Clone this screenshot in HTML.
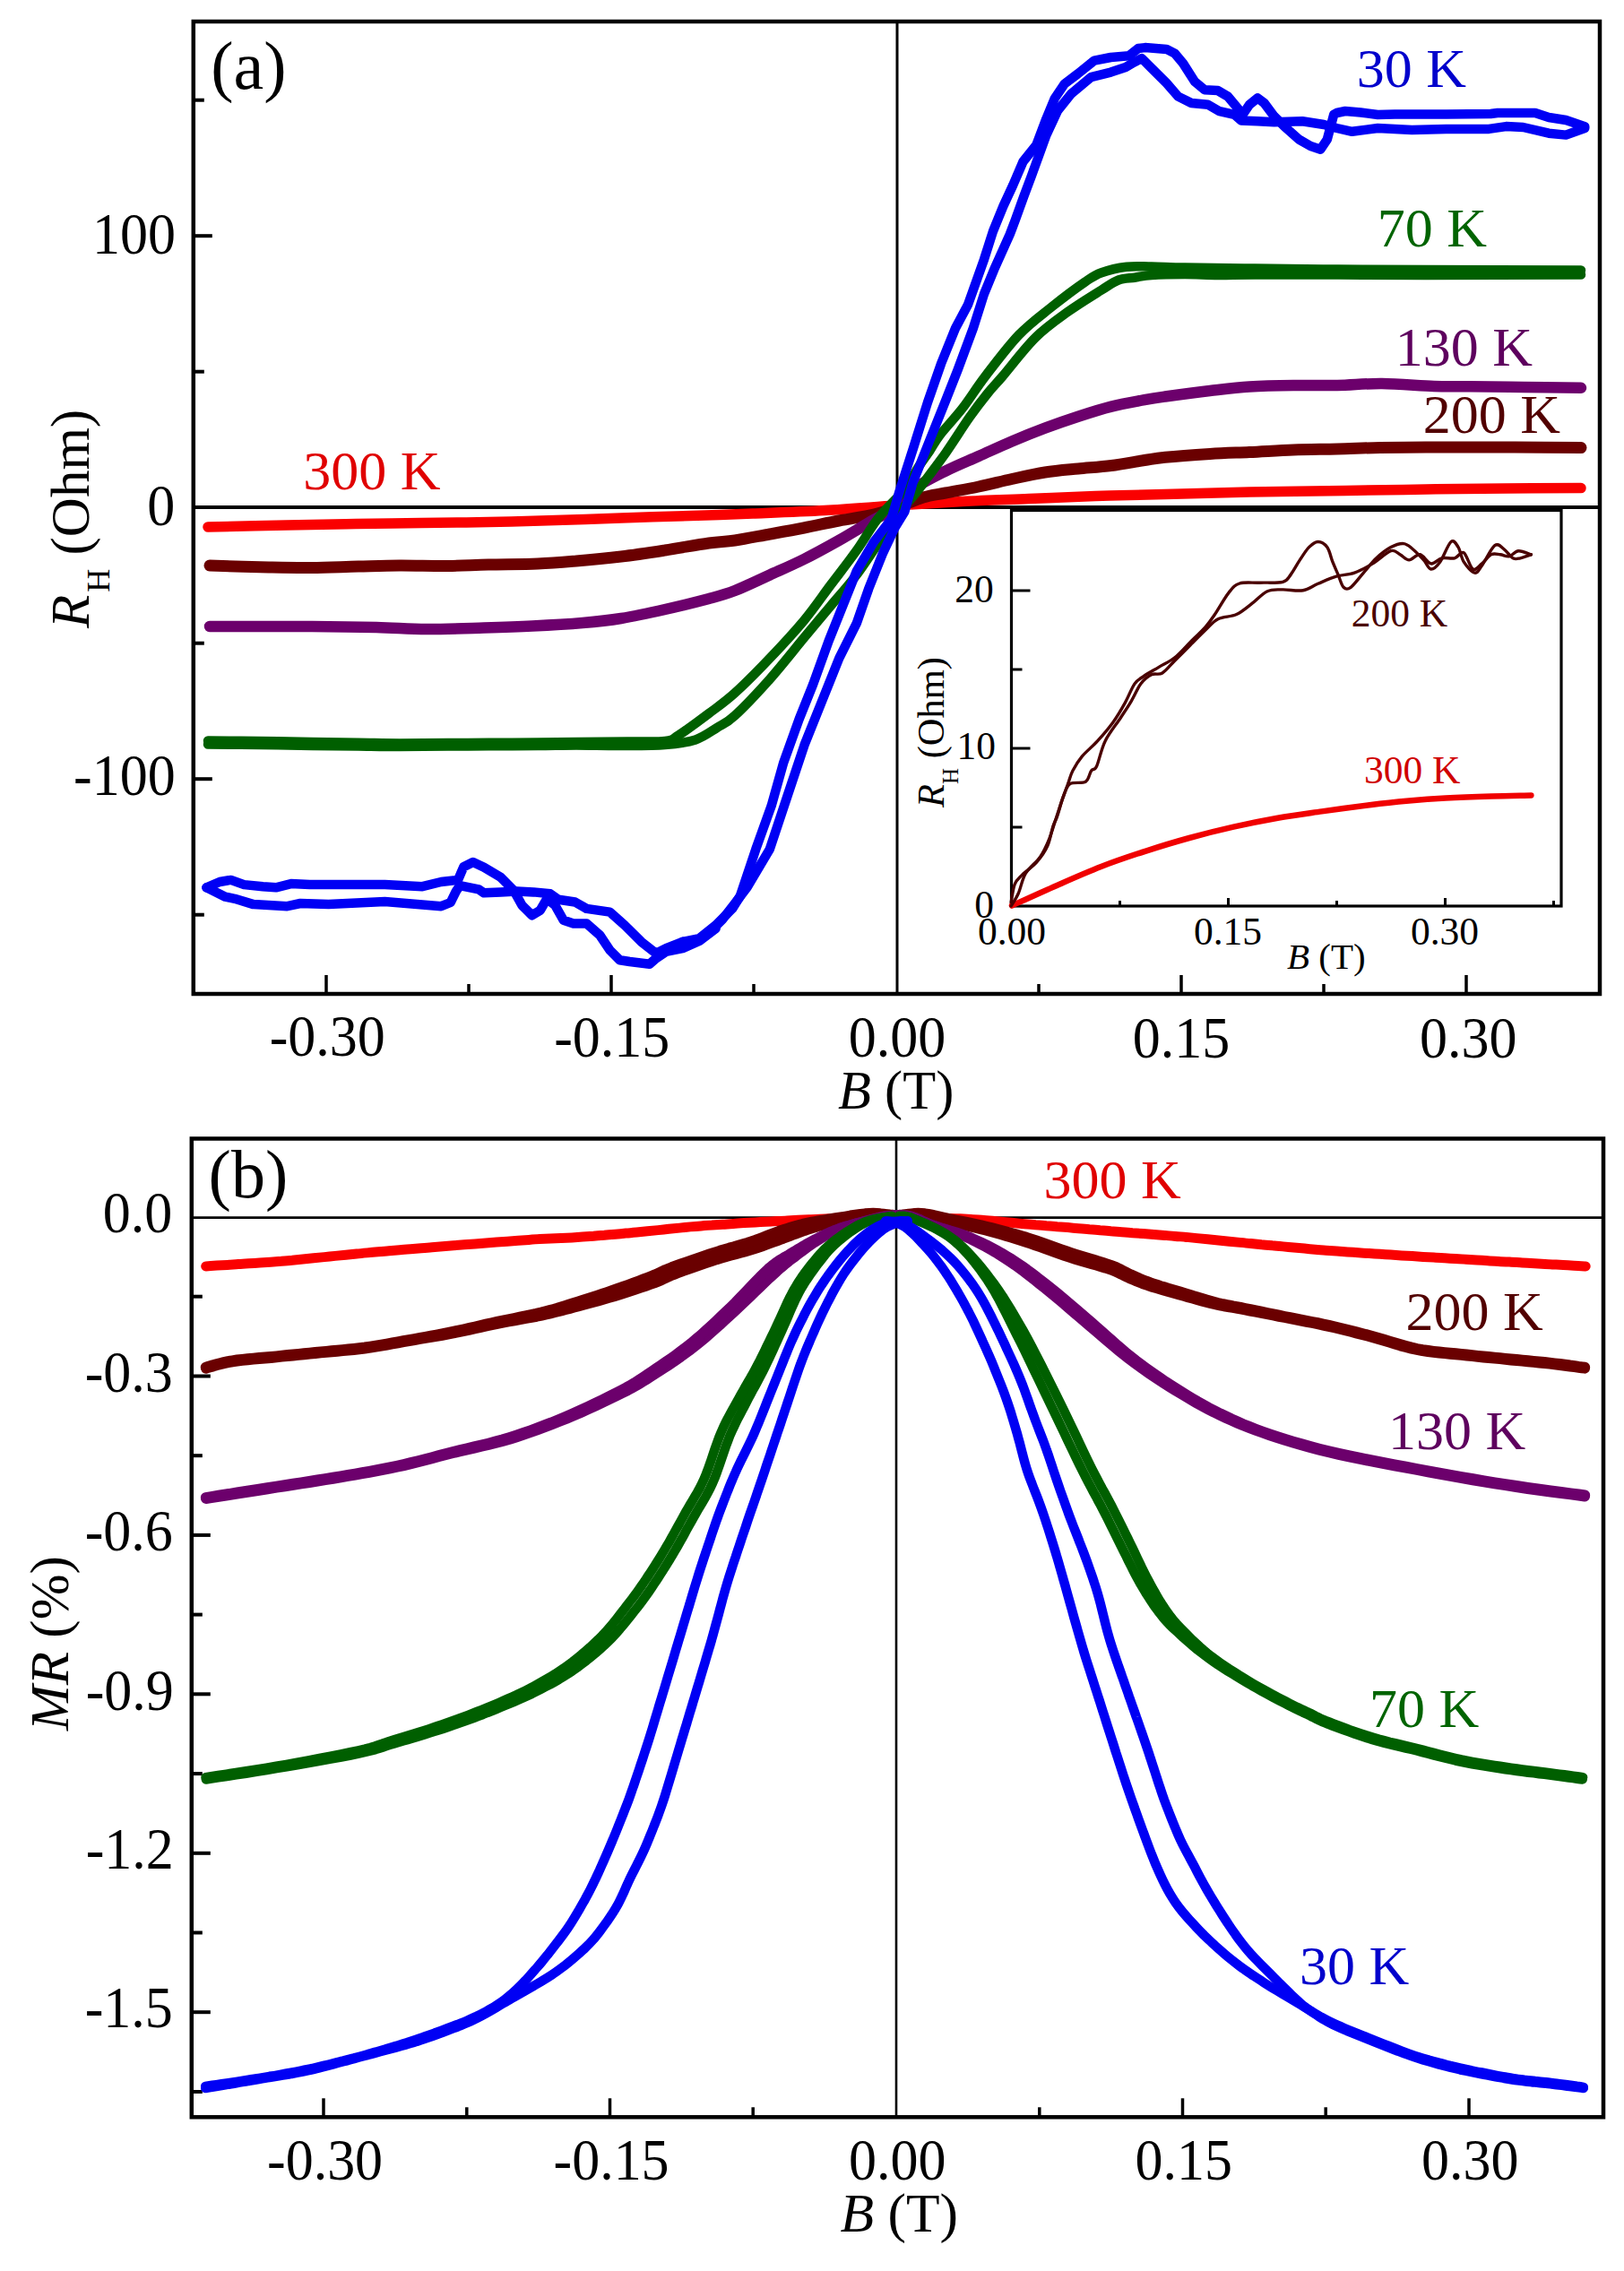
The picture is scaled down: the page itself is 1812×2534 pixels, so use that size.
<!DOCTYPE html>
<html><head><meta charset="utf-8"><title>Hall resistance and magnetoresistance</title>
<style>html,body{margin:0;padding:0;background:#fff;} svg{display:block;}</style>
</head><body>
<svg xmlns="http://www.w3.org/2000/svg" width="1812" height="2534" viewBox="0 0 1812 2534"><rect x="0" y="0" width="1812" height="2534" fill="#fff"/>
<line x1="1001" y1="24" x2="1001" y2="1109" stroke="#000" stroke-width="3"/>
<line x1="215.8" y1="566" x2="1785" y2="566" stroke="#000" stroke-width="4"/>
<line x1="364.0" y1="1109" x2="364.0" y2="1088" stroke="#000" stroke-width="3.5"/>
<line x1="682.0" y1="1109" x2="682.0" y2="1088" stroke="#000" stroke-width="3.5"/>
<line x1="1318.0" y1="1109" x2="1318.0" y2="1088" stroke="#000" stroke-width="3.5"/>
<line x1="1636.0" y1="1109" x2="1636.0" y2="1088" stroke="#000" stroke-width="3.5"/>
<line x1="523.0" y1="1109" x2="523.0" y2="1098" stroke="#000" stroke-width="3.5"/>
<line x1="841.0" y1="1109" x2="841.0" y2="1098" stroke="#000" stroke-width="3.5"/>
<line x1="1159.0" y1="1109" x2="1159.0" y2="1098" stroke="#000" stroke-width="3.5"/>
<line x1="1477.0" y1="1109" x2="1477.0" y2="1098" stroke="#000" stroke-width="3.5"/>
<line x1="215.8" y1="263.2" x2="236.8" y2="263.2" stroke="#000" stroke-width="4"/>
<line x1="215.8" y1="869.2" x2="236.8" y2="869.2" stroke="#000" stroke-width="4"/>
<line x1="215.8" y1="111.7" x2="227.8" y2="111.7" stroke="#000" stroke-width="4"/>
<line x1="215.8" y1="414.7" x2="227.8" y2="414.7" stroke="#000" stroke-width="4"/>
<line x1="215.8" y1="717.7" x2="227.8" y2="717.7" stroke="#000" stroke-width="4"/>
<line x1="215.8" y1="1020.7" x2="227.8" y2="1020.7" stroke="#000" stroke-width="4"/>
<rect x="1128.5" y="569.5" width="613.5" height="441.5" fill="#fff" stroke="#000" stroke-width="3.2"/>
<line x1="1128.5" y1="835.0" x2="1149.5" y2="835.0" stroke="#000" stroke-width="3"/>
<line x1="1128.5" y1="659.0" x2="1149.5" y2="659.0" stroke="#000" stroke-width="3"/>
<line x1="1128.5" y1="923.0" x2="1140.5" y2="923.0" stroke="#000" stroke-width="3"/>
<line x1="1128.5" y1="747.0" x2="1140.5" y2="747.0" stroke="#000" stroke-width="3"/>
<line x1="1370.5" y1="1011" x2="1370.5" y2="1002" stroke="#000" stroke-width="3"/>
<line x1="1612.5" y1="1011" x2="1612.5" y2="1002" stroke="#000" stroke-width="3"/>
<line x1="1249.5" y1="1011" x2="1249.5" y2="1005" stroke="#000" stroke-width="3"/>
<line x1="1491.5" y1="1011" x2="1491.5" y2="1005" stroke="#000" stroke-width="3"/>
<line x1="1733.5" y1="1011" x2="1733.5" y2="1005" stroke="#000" stroke-width="3"/>
<path d="M1129.0,1010.5 C1137.4,1006.7 1162.7,995.1 1179.3,987.9 C1195.9,980.6 1212.1,973.4 1228.5,967.0 C1244.9,960.6 1261.4,955.1 1277.8,949.8 C1294.2,944.5 1310.6,939.5 1327.0,935.0 C1343.4,930.5 1359.9,926.4 1376.3,922.7 C1392.7,919.0 1409.2,915.7 1425.6,912.8 C1442.0,909.9 1457.4,907.9 1474.8,905.4 C1492.2,902.9 1513.8,900.0 1530.0,898.0 C1546.2,896.0 1558.2,894.8 1572.0,893.5 C1585.8,892.2 1597.7,891.3 1613.0,890.5 C1628.3,889.7 1648.1,889.0 1664.0,888.5 C1679.9,888.0 1701.0,887.7 1708.4,887.5" fill="none" stroke="#f00000" stroke-width="6.5" stroke-linejoin="round" stroke-linecap="round"/>
<path d="M1128.1,1006.9 C1128.8,1003.5 1130.2,991.7 1132.2,986.6 C1134.2,981.5 1136.2,980.5 1140.3,976.4 C1144.4,972.3 1151.8,967.6 1156.6,962.2 C1161.3,956.8 1165.8,950.6 1168.8,943.9 C1171.8,937.2 1173.2,927.4 1174.9,922.0 C1176.7,916.6 1177.6,916.4 1179.3,911.6 C1181.0,906.8 1183.0,899.2 1185.0,893.0 C1187.0,886.8 1189.6,880.1 1191.6,874.6 C1193.6,869.1 1194.3,865.1 1196.9,860.0 C1199.5,854.9 1202.6,849.6 1207.2,844.1 C1211.8,838.6 1218.8,833.2 1224.5,826.9 C1230.2,820.6 1236.5,813.4 1241.7,806.2 C1246.9,799.0 1251.5,791.0 1255.5,783.8 C1259.5,776.6 1262.5,768.0 1265.9,763.1 C1269.4,758.2 1271.6,757.7 1276.2,754.5 C1280.8,751.3 1287.7,747.6 1293.4,744.1 C1299.2,740.6 1305.0,738.4 1310.7,733.8 C1316.5,729.2 1322.2,722.4 1327.9,716.6 C1333.7,710.9 1340.6,704.5 1345.2,699.3 C1349.8,694.1 1351.2,691.8 1355.5,685.5 C1359.8,679.2 1366.4,667.1 1371.0,661.4 C1375.6,655.6 1377.3,652.9 1383.1,651.0 C1388.8,649.1 1397.5,650.5 1405.5,650.2 C1413.5,649.9 1425.6,650.8 1431.4,649.3 C1437.2,647.8 1437.1,645.2 1440.2,641.1 C1443.3,637.0 1446.9,630.0 1450.3,624.9 C1453.7,619.8 1457.1,614.0 1460.5,610.6 C1463.9,607.2 1467.2,604.5 1470.6,604.5 C1474.0,604.5 1478.1,606.9 1480.8,610.6 C1483.5,614.3 1484.9,621.8 1486.9,626.9 C1488.9,632.0 1491.0,636.4 1493.0,641.1 C1495.0,645.8 1496.7,652.9 1499.1,655.3 C1501.5,657.7 1503.5,658.0 1507.2,655.3 C1510.9,652.6 1516.7,644.5 1521.4,639.1 C1526.2,633.7 1530.6,627.5 1535.7,622.8 C1540.8,618.0 1546.8,613.3 1551.9,610.6 C1557.0,607.9 1562.1,606.2 1566.2,606.6 C1570.3,607.0 1572.6,609.7 1576.3,612.7 C1580.0,615.8 1585.1,621.2 1588.5,624.9 C1591.9,628.6 1593.5,634.7 1596.6,635.0 C1599.6,635.3 1603.1,632.0 1606.8,626.9 C1610.5,621.8 1615.6,607.2 1619.0,604.5 C1622.4,601.8 1624.7,606.9 1627.1,610.6 C1629.5,614.3 1630.2,622.1 1633.2,626.9 C1636.2,631.6 1642.0,638.4 1645.4,639.1 C1648.8,639.8 1649.8,636.1 1653.5,631.0 C1657.2,625.9 1663.7,611.6 1667.8,608.6 C1671.9,605.6 1674.5,610.3 1677.9,612.7 C1681.3,615.1 1685.0,621.1 1688.1,622.8 C1691.1,624.5 1692.8,623.5 1696.2,622.8 C1699.6,622.1 1706.4,619.5 1708.4,618.8" fill="none" stroke="#4a0000" stroke-width="3.4" stroke-linejoin="round" stroke-linecap="round"/>
<path d="M1128.1,1011.0 C1129.5,1008.6 1133.6,1002.8 1136.3,996.7 C1139.0,990.6 1140.4,981.2 1144.4,974.4 C1148.5,967.6 1156.2,962.5 1160.6,956.1 C1165.0,949.7 1167.8,943.2 1170.8,935.8 C1173.8,928.3 1176.2,919.5 1178.9,911.4 C1181.6,903.3 1184.6,893.1 1187.1,887.0 C1189.6,880.9 1190.0,877.1 1194.0,874.6 C1198.0,872.1 1207.4,874.6 1211.3,872.2 C1215.2,869.8 1215.5,862.9 1217.6,860.0 C1219.6,857.1 1221.0,860.4 1223.6,854.9 C1226.2,849.4 1228.6,835.9 1233.1,826.9 C1237.5,817.9 1245.4,808.5 1250.3,801.0 C1255.2,793.5 1258.7,788.4 1262.4,782.1 C1266.2,775.8 1269.1,768.0 1272.8,763.1 C1276.5,758.2 1280.8,754.8 1284.8,752.8 C1288.8,750.8 1292.6,753.6 1296.9,751.0 C1301.2,748.4 1305.5,742.4 1310.7,737.2 C1315.9,732.0 1322.2,725.7 1327.9,720.0 C1333.7,714.3 1340.0,707.7 1345.2,702.8 C1350.4,697.9 1353.2,693.6 1359.0,690.7 C1364.8,687.8 1373.4,688.4 1379.7,685.5 C1386.0,682.6 1391.2,677.7 1396.9,673.4 C1402.6,669.1 1408.3,662.3 1414.1,659.7 C1419.8,657.1 1424.8,658.0 1431.4,657.9 C1438.0,657.8 1447.3,659.9 1453.8,658.8 C1460.3,657.7 1464.4,653.9 1470.6,651.3 C1476.8,648.7 1484.2,645.2 1491.0,643.2 C1497.8,641.2 1504.5,641.5 1511.3,639.1 C1518.1,636.7 1524.8,633.0 1531.6,628.9 C1538.4,624.8 1546.8,616.4 1551.9,614.7 C1557.0,613.0 1558.7,617.1 1562.1,618.8 C1565.5,620.5 1568.5,624.9 1572.2,624.9 C1575.9,624.9 1580.3,618.1 1584.4,618.8 C1588.5,619.5 1592.5,628.2 1596.6,628.9 C1600.7,629.6 1604.4,623.8 1608.8,622.8 C1613.2,621.8 1618.9,623.8 1623.0,622.8 C1627.1,621.8 1629.8,614.7 1633.2,616.7 C1636.6,618.7 1640.0,633.0 1643.4,635.0 C1646.8,637.0 1650.1,631.6 1653.5,628.9 C1656.9,626.2 1660.3,620.5 1663.7,618.8 C1667.1,617.1 1670.5,618.5 1673.9,618.8 C1677.3,619.1 1680.6,621.5 1684.0,620.8 C1687.4,620.1 1690.1,615.0 1694.2,614.7 C1698.3,614.4 1706.0,618.1 1708.4,618.8" fill="none" stroke="#4a0000" stroke-width="3.4" stroke-linejoin="round" stroke-linecap="round"/>
<path d="M232.0,588.0 C246.7,587.7 292.5,586.6 320.0,586.0 C347.5,585.4 372.0,584.9 397.0,584.5 C422.0,584.1 445.3,583.8 470.0,583.5 C494.7,583.2 520.0,583.0 545.0,582.5 C570.0,582.0 595.3,581.2 620.0,580.5 C644.7,579.8 668.0,578.8 693.0,578.0 C718.0,577.2 745.5,576.3 770.0,575.5 C794.5,574.7 815.0,574.0 840.0,573.0 C865.0,572.0 893.3,571.0 920.0,569.5 C946.7,568.0 974.3,565.7 1000.0,564.0 C1025.7,562.3 1049.3,560.8 1074.0,559.5 C1098.7,558.2 1123.3,557.5 1148.0,556.5 C1172.7,555.5 1196.7,554.3 1222.0,553.5 C1247.3,552.7 1271.3,552.2 1300.0,551.5 C1328.7,550.8 1360.7,549.7 1394.0,549.0 C1427.3,548.3 1467.2,548.0 1500.0,547.5 C1532.8,547.0 1561.0,546.4 1591.0,546.0 C1621.0,545.6 1651.2,545.2 1680.0,545.0 C1708.8,544.8 1750.0,544.7 1764.0,544.6" fill="none" stroke="#fa0000" stroke-width="11.5" stroke-linejoin="round" stroke-linecap="round"/>
<path d="M234.0,631.0 C245.0,631.3 281.0,632.6 300.0,633.0 C319.0,633.4 331.3,633.7 348.0,633.5 C364.7,633.3 383.7,632.4 400.0,632.0 C416.3,631.6 429.3,631.1 446.0,631.0 C462.7,630.9 483.5,631.7 500.0,631.5 C516.5,631.3 528.3,630.4 545.0,630.0 C561.7,629.6 583.7,629.7 600.0,629.0 C616.3,628.3 627.5,627.3 643.0,626.0 C658.5,624.7 676.5,623.0 693.0,621.0 C709.5,619.0 725.7,616.5 742.0,614.0 C758.3,611.5 778.0,607.8 791.0,606.0 C804.0,604.2 808.7,604.7 820.0,603.0 C831.3,601.3 846.2,598.3 859.0,596.0 C871.8,593.7 884.2,591.5 897.0,589.0 C909.8,586.5 923.0,583.5 936.0,581.0 C949.0,578.5 964.2,576.5 975.0,574.0 C985.8,571.5 991.8,569.2 1001.0,566.0 C1010.2,562.8 1021.0,557.7 1030.0,555.0 C1039.0,552.3 1044.7,552.0 1055.0,550.0 C1065.3,548.0 1079.7,545.6 1092.0,543.0 C1104.3,540.4 1116.7,537.2 1129.0,534.5 C1141.3,531.8 1153.7,528.9 1166.0,527.0 C1178.3,525.1 1190.7,524.2 1203.0,523.0 C1215.3,521.8 1227.7,521.1 1240.0,519.5 C1252.3,517.9 1267.0,515.0 1277.0,513.5 C1287.0,512.0 1287.8,511.5 1300.0,510.3 C1312.2,509.1 1334.3,507.5 1350.0,506.5 C1365.7,505.5 1378.5,505.2 1394.0,504.5 C1409.5,503.8 1426.7,502.6 1443.0,502.0 C1459.3,501.4 1475.8,501.4 1492.0,501.0 C1508.2,500.6 1523.5,499.8 1540.0,499.5 C1556.5,499.2 1574.3,499.1 1591.0,499.0 C1607.7,498.9 1623.5,499.0 1640.0,499.0 C1656.5,499.0 1669.3,498.9 1690.0,499.0 C1710.7,499.1 1751.7,499.4 1764.0,499.5" fill="none" stroke="#6a0000" stroke-width="13" stroke-linejoin="round" stroke-linecap="round"/>
<path d="M234.0,699.0 C245.0,699.0 281.0,699.0 300.0,699.0 C319.0,699.0 328.0,698.8 348.0,699.0 C368.0,699.2 398.7,699.5 420.0,700.0 C441.3,700.5 456.0,701.9 476.0,702.0 C496.0,702.1 520.3,701.1 540.0,700.5 C559.7,699.9 575.7,699.4 594.0,698.5 C612.3,697.6 633.5,696.4 650.0,695.0 C666.5,693.6 677.7,692.5 693.0,690.0 C708.3,687.5 725.7,683.7 742.0,680.0 C758.3,676.3 778.0,671.5 791.0,668.0 C804.0,664.5 808.7,663.4 820.0,659.0 C831.3,654.6 846.2,647.3 859.0,641.5 C871.8,635.7 884.2,630.4 897.0,624.0 C909.8,617.6 923.0,610.3 936.0,603.0 C949.0,595.7 964.2,586.2 975.0,580.0 C985.8,573.8 993.8,571.7 1001.0,566.0 C1008.2,560.3 1009.5,552.7 1018.5,546.0 C1027.5,539.3 1042.8,531.8 1055.0,525.6 C1067.2,519.4 1079.7,514.5 1092.0,509.0 C1104.3,503.5 1116.7,497.6 1129.0,492.4 C1141.3,487.2 1153.7,482.2 1166.0,477.6 C1178.3,473.0 1190.7,468.7 1203.0,464.7 C1215.3,460.7 1227.7,456.7 1240.0,453.6 C1252.3,450.5 1267.0,448.1 1277.0,446.2 C1287.0,444.3 1287.8,444.2 1300.0,442.5 C1312.2,440.8 1334.3,437.8 1350.0,436.0 C1365.7,434.2 1378.5,432.5 1394.0,431.5 C1409.5,430.5 1426.7,430.2 1443.0,430.0 C1459.3,429.8 1475.5,430.3 1492.0,430.0 C1508.5,429.7 1524.0,427.8 1542.0,428.0 C1560.0,428.2 1583.7,430.4 1600.0,431.0 C1616.3,431.6 1623.3,431.1 1640.0,431.3 C1656.7,431.5 1679.3,431.8 1700.0,432.0 C1720.7,432.2 1753.3,432.7 1764.0,432.8" fill="none" stroke="#6c006c" stroke-width="12.5" stroke-linejoin="round" stroke-linecap="round"/>
<path d="M232.0,826.5 C241.7,826.6 270.7,826.8 290.0,827.0 C309.3,827.2 329.7,827.7 348.0,828.0 C366.3,828.3 383.7,828.5 400.0,828.8 C416.3,829.0 429.3,829.5 446.0,829.5 C462.7,829.5 483.5,829.1 500.0,829.0 C516.5,828.9 528.3,828.9 545.0,828.8 C561.7,828.7 583.7,828.6 600.0,828.5 C616.3,828.4 626.3,828.2 643.0,828.0 C659.7,827.8 683.5,827.7 700.0,827.5 C716.5,827.3 732.5,828.2 742.0,827.0 C751.5,825.8 748.8,825.7 757.0,820.5 C765.2,815.3 780.5,803.9 791.0,796.0 C801.5,788.1 808.7,783.5 820.0,773.2 C831.3,762.9 846.1,748.0 859.0,734.4 C871.9,720.8 886.2,705.4 897.5,691.8 C908.8,678.2 916.9,665.9 926.6,653.0 C936.3,640.1 947.0,626.6 955.7,614.3 C964.4,602.0 971.0,589.7 979.0,579.4 C987.0,569.1 998.7,557.8 1004.0,552.5 C1009.3,547.2 1007.9,552.4 1011.0,547.8 C1014.1,543.2 1018.2,532.2 1022.5,524.8 C1026.8,517.4 1032.6,510.1 1037.0,503.5 C1041.4,496.9 1042.8,493.0 1049.0,485.0 C1055.2,477.0 1065.5,466.4 1074.0,455.4 C1082.5,444.4 1089.5,432.6 1100.0,419.0 C1110.5,405.4 1124.7,386.3 1137.0,373.5 C1149.3,360.7 1161.7,351.9 1174.0,342.0 C1186.3,332.1 1201.8,320.6 1211.0,314.3 C1220.2,308.0 1221.3,307.0 1229.0,304.2 C1236.7,301.4 1247.7,298.8 1257.0,297.7 C1266.3,296.6 1274.2,297.4 1285.0,297.5 C1295.8,297.6 1302.8,298.2 1322.0,298.6 C1341.2,299.0 1371.5,299.3 1400.0,299.6 C1428.5,299.9 1461.2,300.3 1493.0,300.5 C1524.8,300.7 1545.8,300.8 1591.0,301.0 C1636.2,301.2 1735.2,301.4 1764.0,301.5" fill="none" stroke="#005f00" stroke-width="10.5" stroke-linejoin="round" stroke-linecap="round"/>
<path d="M232.0,830.5 C241.7,830.6 270.7,830.8 290.0,831.0 C309.3,831.2 329.7,831.8 348.0,832.0 C366.3,832.2 383.7,832.3 400.0,832.5 C416.3,832.7 429.3,833.0 446.0,833.0 C462.7,833.0 483.5,832.6 500.0,832.5 C516.5,832.4 528.3,832.4 545.0,832.3 C561.7,832.2 583.7,832.1 600.0,832.0 C616.3,831.9 627.5,831.5 643.0,831.5 C658.5,831.5 676.5,832.1 693.0,832.0 C709.5,831.9 728.2,832.1 742.0,831.0 C755.8,829.9 766.3,828.6 776.0,825.4 C785.7,822.2 792.7,816.5 800.0,812.0 C807.3,807.5 810.2,807.4 820.0,798.4 C829.8,789.4 846.1,772.2 859.0,757.7 C871.9,743.2 886.2,724.8 897.5,711.2 C908.8,697.6 916.9,687.9 926.6,676.3 C936.3,664.7 946.0,654.3 955.7,641.4 C965.4,628.5 977.3,609.8 984.7,598.8 C992.1,587.8 994.1,583.2 1000.0,575.5 C1005.9,567.8 1014.0,559.9 1020.0,552.5 C1026.0,545.1 1030.1,539.3 1036.0,531.4 C1041.9,523.5 1047.8,515.9 1055.5,504.9 C1063.2,493.9 1074.2,476.3 1082.0,465.3 C1089.8,454.3 1095.9,446.4 1102.0,438.9 C1108.1,431.3 1109.7,430.3 1118.5,420.0 C1127.3,409.7 1142.8,389.1 1155.0,377.0 C1167.2,364.9 1179.7,356.5 1192.0,347.6 C1204.3,338.7 1219.7,329.5 1229.0,323.6 C1238.3,317.8 1241.8,314.8 1248.0,312.5 C1254.2,310.2 1259.8,310.6 1266.0,309.7 C1272.2,308.8 1275.7,307.5 1285.0,306.9 C1294.3,306.3 1309.7,306.0 1322.0,306.0 C1334.3,306.0 1346.0,306.9 1359.0,307.0 C1372.0,307.1 1377.7,306.6 1400.0,306.5 C1422.3,306.4 1461.2,306.4 1493.0,306.5 C1524.8,306.6 1545.8,307.0 1591.0,307.0 C1636.2,307.0 1735.2,306.6 1764.0,306.5" fill="none" stroke="#005f00" stroke-width="10.5" stroke-linejoin="round" stroke-linecap="round"/>
<polyline points="230.5,990.3 251.4,1000.7 261.9,1002.8 282.8,1009.1 320.5,1011.2 335.2,1008.0 366.6,1009.1 408.4,1007.0 429.4,1006.0 492.2,1011.2 502.7,1007.0 508.9,994.4 513.1,988.2 534.1,992.3 540.0,996.3 558.5,995.4 577.0,994.5 595.4,995.4 613.9,997.3 623.1,1003.7 641.6,1006.5 654.5,1013.9 680.4,1017.6 697.0,1032.4 715.5,1050.8 732.1,1063.8 743.2,1058.2 761.7,1050.8" fill="none" stroke="#0000f4" stroke-width="10.5" stroke-linejoin="round" stroke-linecap="round"/>
<polyline points="230.5,990.3 245.1,984.0 257.7,981.9 272.3,987.1 293.3,989.2 307.9,990.3 324.7,986.1 345.6,987.1 404.3,987.1 429.4,987.1 471.3,989.2 492.2,984.0 511.0,981.9 517.3,967.2 527.8,962.0 540.0,967.7 558.5,978.8 573.3,993.6 582.5,1010.2 593.6,1021.3 602.8,1015.7 610.2,1002.8 619.4,1010.2 628.7,1026.8 639.8,1030.5 654.5,1030.5 669.3,1043.5 680.4,1060.1 691.5,1071.2 702.6,1073.0 724.7,1075.8 732.1,1069.3 743.2,1061.9 761.7,1058.2 780.2,1050.0 798.6,1036.0" fill="none" stroke="#0000f4" stroke-width="10.5" stroke-linejoin="round" stroke-linecap="round"/>
<polyline points="761.7,1050.8 780.2,1047.2 798.6,1032.4 817.1,1013.9 825.8,1000.0 843.3,947.6 860.7,899.1 874.3,850.7 891.7,802.2 907.2,763.5 924.7,715.0 940.2,676.3 955.7,637.5 975.0,604.6 994.4,579.4 1003.7,547.8 1018.5,501.6 1035.0,449.0 1050.0,405.9 1066.0,366.2 1080.0,340.0 1098.0,289.4 1108.0,258.0 1119.3,230.3 1130.4,206.3 1141.5,180.4 1156.3,161.9 1167.4,132.4 1176.6,110.2 1187.7,93.6 1202.4,82.5 1220.9,67.7 1239.4,64.0 1259.7,62.2 1270.2,54.0 1277.6,53.1 1301.6,54.9 1310.8,59.6 1320.0,70.6 1333.0,91.0 1344.1,100.2 1358.9,101.1 1370.0,107.6 1379.2,118.7 1386.6,127.9 1394.0,116.8 1403.2,109.4 1410.6,115.0 1421.7,129.8 1432.8,140.8 1449.4,155.6 1462.3,163.0 1473.4,166.7 1480.8,155.6 1488.2,127.9 1491.5,126.0 1501.0,124.0 1518.2,125.5 1537.3,128.0 1556.3,127.5 1613.6,127.5 1663.2,127.0 1670.9,126.0 1712.9,126.0 1728.1,131.0 1747.2,134.0 1768.2,141.1" fill="none" stroke="#0000f4" stroke-width="10.5" stroke-linejoin="round" stroke-linecap="round"/>
<polyline points="790.0,1042.0 806.0,1026.0 820.0,1008.0 833.6,990.0 858.8,947.6 878.1,889.5 897.5,831.3 916.9,782.9 936.3,734.4 955.7,695.7 969.2,656.9 984.7,618.1 998.3,589.1 1009.3,571.0 1018.5,538.6 1036.9,492.4 1055.4,446.2 1068.7,412.5 1085.9,366.2 1098.0,328.0 1110.1,298.6 1126.7,261.7 1133.0,245.0 1142.0,220.0 1151.0,196.0 1167.4,150.8 1180.3,123.1 1195.1,104.7 1217.2,86.2 1239.4,80.6 1256.0,75.1 1265.3,69.6 1273.9,65.1 1285.0,76.2 1301.6,92.8 1314.5,107.6 1329.3,115.0 1347.8,116.8 1360.7,124.2 1377.3,127.9 1384.7,134.4 1403.2,135.3 1421.7,136.2 1453.1,135.3 1477.1,139.0 1491.5,143.0 1508.6,146.8 1537.3,143.0 1575.4,144.9 1613.6,143.9 1661.3,143.9 1680.4,141.1 1699.5,142.0 1728.1,148.7 1747.2,150.6 1768.2,143.0" fill="none" stroke="#0000f4" stroke-width="10.5" stroke-linejoin="round" stroke-linecap="round"/>
<rect x="215.8" y="24" width="1569.2" height="1085" fill="none" stroke="#000" stroke-width="4.5"/>
<line x1="1000" y1="1270.5" x2="1000" y2="2362.3" stroke="#000" stroke-width="2.6"/>
<line x1="213.8" y1="1358.6" x2="1789" y2="1358.6" stroke="#000" stroke-width="2.8"/>
<line x1="361.0" y1="2362.3" x2="361.0" y2="2341.3" stroke="#000" stroke-width="3.5"/>
<line x1="680.5" y1="2362.3" x2="680.5" y2="2341.3" stroke="#000" stroke-width="3.5"/>
<line x1="1319.5" y1="2362.3" x2="1319.5" y2="2341.3" stroke="#000" stroke-width="3.5"/>
<line x1="1639.0" y1="2362.3" x2="1639.0" y2="2341.3" stroke="#000" stroke-width="3.5"/>
<line x1="520.8" y1="2362.3" x2="520.8" y2="2351.3" stroke="#000" stroke-width="3.5"/>
<line x1="840.2" y1="2362.3" x2="840.2" y2="2351.3" stroke="#000" stroke-width="3.5"/>
<line x1="1159.8" y1="2362.3" x2="1159.8" y2="2351.3" stroke="#000" stroke-width="3.5"/>
<line x1="1479.2" y1="2362.3" x2="1479.2" y2="2351.3" stroke="#000" stroke-width="3.5"/>
<line x1="213.8" y1="1535.5" x2="234.8" y2="1535.5" stroke="#000" stroke-width="4"/>
<line x1="213.8" y1="1712.9" x2="234.8" y2="1712.9" stroke="#000" stroke-width="4"/>
<line x1="213.8" y1="1890.3" x2="234.8" y2="1890.3" stroke="#000" stroke-width="4"/>
<line x1="213.8" y1="2067.8" x2="234.8" y2="2067.8" stroke="#000" stroke-width="4"/>
<line x1="213.8" y1="2245.2" x2="234.8" y2="2245.2" stroke="#000" stroke-width="4"/>
<line x1="213.8" y1="1446.7" x2="225.8" y2="1446.7" stroke="#000" stroke-width="4"/>
<line x1="213.8" y1="1624.2" x2="225.8" y2="1624.2" stroke="#000" stroke-width="4"/>
<line x1="213.8" y1="1801.6" x2="225.8" y2="1801.6" stroke="#000" stroke-width="4"/>
<line x1="213.8" y1="1979.1" x2="225.8" y2="1979.1" stroke="#000" stroke-width="4"/>
<line x1="213.8" y1="2156.5" x2="225.8" y2="2156.5" stroke="#000" stroke-width="4"/>
<line x1="213.8" y1="2334.0" x2="225.8" y2="2334.0" stroke="#000" stroke-width="4"/>
<path d="M229.7,1412.9 C231.7,1412.8 238.0,1412.4 242.0,1412.1 C246.0,1411.9 249.8,1411.6 253.8,1411.4 C257.7,1411.1 261.8,1410.9 265.8,1410.6 C269.8,1410.4 273.8,1410.1 277.8,1409.8 C281.8,1409.6 285.8,1409.3 289.8,1409.1 C293.9,1408.8 297.9,1408.5 301.9,1408.2 C305.9,1407.9 309.9,1407.6 313.9,1407.3 C317.9,1406.9 321.9,1406.5 325.9,1406.2 C329.9,1405.8 333.9,1405.4 337.9,1405.0 C341.9,1404.6 345.9,1404.2 349.9,1403.8 C353.9,1403.4 357.9,1403.0 361.9,1402.6 C365.9,1402.2 369.9,1401.8 373.9,1401.4 C377.9,1401.0 381.9,1400.6 385.9,1400.2 C389.9,1399.8 393.9,1399.4 397.9,1399.0 C401.9,1398.7 405.9,1398.3 409.9,1397.9 C413.9,1397.5 417.9,1397.2 421.9,1396.8 C425.9,1396.5 429.9,1396.2 433.9,1395.8 C437.9,1395.5 441.9,1395.1 445.9,1394.8 C449.9,1394.4 453.9,1394.1 457.9,1393.8 C461.9,1393.4 465.9,1393.1 469.9,1392.7 C473.9,1392.4 477.9,1392.1 481.9,1391.7 C485.9,1391.4 489.9,1391.0 493.9,1390.7 C497.9,1390.4 501.9,1390.0 505.9,1389.7 C509.9,1389.4 514.0,1389.1 518.0,1388.8 C522.0,1388.5 526.0,1388.2 530.0,1387.9 C534.0,1387.6 538.0,1387.3 542.0,1387.0 C546.0,1386.7 550.0,1386.4 554.0,1386.1 C558.0,1385.8 562.0,1385.5 566.0,1385.2 C570.0,1384.9 574.1,1384.6 578.1,1384.3 C582.1,1384.0 586.1,1383.7 590.1,1383.4 C594.1,1383.1 598.1,1382.8 602.1,1382.6 C606.1,1382.4 610.1,1382.2 614.1,1382.0 C618.2,1381.8 622.2,1381.7 626.2,1381.5 C630.2,1381.3 634.2,1381.1 638.2,1380.9 C642.2,1380.6 646.2,1380.4 650.2,1380.1 C654.3,1379.8 658.3,1379.5 662.3,1379.2 C666.3,1378.8 670.3,1378.5 674.3,1378.2 C678.3,1377.8 682.3,1377.5 686.3,1377.2 C690.3,1376.8 694.3,1376.5 698.3,1376.1 C702.3,1375.8 706.3,1375.4 710.3,1375.0 C714.3,1374.6 718.3,1374.2 722.3,1373.8 C726.3,1373.4 730.3,1373.0 734.3,1372.6 C738.3,1372.2 742.3,1371.7 746.3,1371.3 C750.3,1370.9 754.3,1370.5 758.3,1370.1 C762.3,1369.7 766.3,1369.3 770.3,1368.9 C774.3,1368.6 778.3,1368.2 782.3,1367.9 C786.3,1367.6 790.3,1367.3 794.3,1367.1 C798.3,1366.8 802.3,1366.5 806.3,1366.2 C810.3,1366.0 814.3,1365.7 818.3,1365.4 C822.4,1365.2 826.4,1364.9 830.4,1364.6 C834.4,1364.4 838.4,1364.1 842.4,1363.9 C846.4,1363.7 850.4,1363.4 854.4,1363.2 C858.4,1363.0 862.5,1362.8 866.5,1362.6 C870.5,1362.4 874.5,1362.2 878.5,1361.9 C882.5,1361.7 886.5,1361.5 890.5,1361.3 C894.6,1361.1 898.6,1360.9 902.6,1360.7 C906.6,1360.6 910.6,1360.4 914.6,1360.2 C918.6,1360.1 922.7,1359.9 926.7,1359.8 C930.7,1359.7 934.7,1359.5 938.7,1359.4 C942.7,1359.3 946.8,1359.2 950.8,1359.1 C954.8,1359.0 958.8,1359.0 962.8,1358.9 C966.8,1358.8 970.9,1358.8 974.9,1358.8 C978.9,1358.7 982.9,1358.7 986.9,1358.6 C990.9,1358.6 995.0,1358.6 999.0,1358.6 C1003.0,1358.6 1007.0,1358.6 1011.0,1358.6 C1015.1,1358.7 1019.1,1358.7 1023.1,1358.7 C1027.1,1358.8 1031.1,1358.8 1035.1,1358.9 C1039.2,1358.9 1043.2,1359.0 1047.2,1359.1 C1051.2,1359.2 1055.2,1359.3 1059.2,1359.4 C1063.3,1359.5 1067.3,1359.6 1071.3,1359.8 C1075.3,1360.0 1079.3,1360.2 1083.3,1360.4 C1087.3,1360.6 1091.3,1360.9 1095.3,1361.2 C1099.3,1361.5 1103.3,1361.9 1107.3,1362.3 C1111.3,1362.7 1115.3,1363.1 1119.3,1363.5 C1123.3,1363.9 1127.3,1364.2 1131.3,1364.6 C1135.3,1365.0 1139.3,1365.3 1143.3,1365.7 C1147.4,1366.0 1151.4,1366.3 1155.4,1366.7 C1159.4,1367.0 1163.4,1367.3 1167.4,1367.7 C1171.4,1368.0 1175.4,1368.3 1179.4,1368.7 C1183.4,1369.0 1187.4,1369.3 1191.4,1369.6 C1195.4,1370.0 1199.4,1370.3 1203.4,1370.7 C1207.4,1371.0 1211.4,1371.3 1215.4,1371.7 C1219.4,1372.0 1223.4,1372.3 1227.4,1372.7 C1231.4,1373.0 1235.4,1373.3 1239.4,1373.7 C1243.5,1374.0 1247.5,1374.4 1251.5,1374.7 C1255.5,1375.0 1259.5,1375.3 1263.5,1375.7 C1267.5,1376.0 1271.5,1376.3 1275.5,1376.6 C1279.5,1376.9 1283.5,1377.2 1287.5,1377.5 C1291.5,1377.8 1295.5,1378.1 1299.5,1378.4 C1303.5,1378.8 1307.5,1379.1 1311.5,1379.4 C1315.5,1379.7 1319.5,1380.1 1323.6,1380.4 C1327.6,1380.8 1331.6,1381.2 1335.5,1381.6 C1339.5,1382.0 1343.5,1382.4 1347.5,1382.8 C1351.5,1383.2 1355.5,1383.6 1359.5,1384.0 C1363.5,1384.4 1367.5,1384.8 1371.5,1385.2 C1375.5,1385.6 1379.5,1386.0 1383.5,1386.4 C1387.5,1386.8 1391.5,1387.2 1395.5,1387.5 C1399.5,1387.9 1403.5,1388.3 1407.5,1388.7 C1411.5,1389.0 1415.5,1389.4 1419.5,1389.8 C1423.5,1390.1 1427.5,1390.5 1431.5,1390.9 C1435.5,1391.3 1439.5,1391.6 1443.5,1392.0 C1447.5,1392.4 1451.5,1392.7 1455.5,1393.1 C1459.5,1393.5 1463.5,1393.8 1467.5,1394.2 C1471.5,1394.5 1475.5,1394.9 1479.6,1395.2 C1483.6,1395.5 1487.6,1395.8 1491.6,1396.1 C1495.6,1396.4 1499.6,1396.7 1503.6,1397.0 C1507.6,1397.2 1511.6,1397.5 1515.6,1397.7 C1519.6,1398.0 1523.6,1398.3 1527.7,1398.5 C1531.7,1398.8 1535.7,1399.0 1539.7,1399.3 C1543.7,1399.6 1547.7,1399.8 1551.7,1400.1 C1555.7,1400.4 1559.7,1400.6 1563.7,1400.9 C1567.7,1401.1 1571.8,1401.4 1575.8,1401.6 C1579.8,1401.9 1583.8,1402.1 1587.8,1402.4 C1591.8,1402.6 1595.8,1402.9 1599.8,1403.1 C1603.8,1403.4 1607.9,1403.6 1611.9,1403.8 C1615.9,1404.1 1619.9,1404.3 1623.9,1404.6 C1627.9,1404.8 1631.9,1405.0 1635.9,1405.3 C1639.9,1405.5 1643.9,1405.8 1648.0,1406.0 C1652.0,1406.2 1656.0,1406.5 1660.0,1406.7 C1664.0,1407.0 1668.0,1407.2 1672.0,1407.4 C1676.0,1407.7 1680.0,1407.9 1684.1,1408.1 C1688.1,1408.4 1692.1,1408.6 1696.1,1408.8 C1700.1,1409.1 1704.1,1409.3 1708.1,1409.5 C1712.1,1409.7 1716.1,1410.0 1720.2,1410.2 C1724.2,1410.4 1728.2,1410.6 1732.2,1410.9 C1736.2,1411.1 1740.3,1411.3 1744.2,1411.5 C1748.2,1411.8 1752.0,1412.0 1756.0,1412.2 C1760.0,1412.4 1766.3,1412.8 1768.3,1412.9 C1770.3,1413.0 1768.3,1412.9 1768.3,1412.9" fill="none" stroke="#fa0000" stroke-width="11" stroke-linejoin="round" stroke-linecap="round"/>
<polyline points="229.9,1526.9 232.1,1526.3 234.8,1525.5 238.0,1524.6 241.6,1523.5 245.7,1522.5 250.0,1521.4 254.6,1520.4 259.4,1519.5 264.6,1518.8 270.3,1518.1 276.4,1517.5 282.7,1516.9 289.2,1516.3 295.8,1515.7 302.3,1515.2 308.6,1514.5 314.7,1513.9 320.9,1513.3 327.1,1512.7 333.2,1512.1 339.4,1511.5 345.6,1510.9 351.7,1510.3 357.9,1509.6 364.0,1509.1 370.2,1508.5 376.3,1508.0 382.5,1507.4 388.6,1506.8 394.8,1506.2 400.9,1505.5 407.1,1504.7 413.3,1503.9 419.4,1502.9 425.6,1501.9 431.8,1500.8 437.9,1499.7 444.1,1498.5 450.3,1497.4 456.4,1496.3 462.6,1495.3 468.8,1494.2 474.9,1493.2 481.1,1492.1 487.3,1491.1 493.5,1490.0 499.6,1488.9 505.8,1487.7 512.0,1486.4 518.1,1485.1 524.3,1483.8 530.4,1482.4 536.6,1481.1 542.8,1479.7 548.9,1478.4 555.1,1477.1 561.3,1475.9 567.7,1474.7 574.1,1473.5 580.6,1472.4 586.9,1471.2 593.0,1470.1 598.9,1469.0 604.5,1467.8 609.6,1466.7 614.3,1465.6 618.7,1464.5 622.9,1463.5 627.1,1462.4 631.4,1461.3 635.9,1460.1 640.7,1458.8 645.9,1457.4 651.2,1456.0 656.8,1454.5 662.5,1453.0 668.2,1451.4 674.0,1449.8 679.7,1448.1 685.4,1446.4 691.1,1444.7 697.1,1442.8 703.2,1440.8 709.2,1438.8 715.0,1436.9 720.6,1435.0 725.7,1433.2 730.2,1431.6 734.0,1430.1 736.9,1428.9 739.4,1427.8 741.4,1426.7 743.5,1425.7 745.7,1424.7 748.6,1423.4 752.3,1422.0 757.0,1420.2 762.5,1418.2 768.5,1416.1 774.9,1413.8 781.4,1411.6 787.8,1409.4 794.0,1407.3 799.8,1405.4 805.2,1403.8 810.6,1402.2 815.9,1400.8 821.1,1399.4 826.2,1398.0 831.2,1396.6 836.1,1395.2 840.9,1393.8 845.5,1392.3 850.0,1390.8 854.3,1389.2 858.5,1387.7 862.5,1386.2 866.4,1384.8 870.2,1383.3 874.0,1382.0 877.6,1380.6 881.2,1379.3 884.6,1378.0 887.9,1376.8 891.1,1375.6 894.4,1374.4 897.7,1373.2 901.0,1372.1 904.3,1371.0 907.5,1370.0 910.7,1369.1 913.9,1368.1 917.2,1367.2 920.7,1366.2 924.5,1365.2 928.6,1364.2 933.3,1363.1 938.3,1361.8 943.7,1360.5 949.3,1359.2 954.8,1357.9 960.2,1356.8 965.4,1355.9 970.1,1355.2 974.3,1354.9 978.4,1354.8 982.2,1355.0 985.8,1355.2 989.4,1355.6 992.9,1355.9 996.4,1356.2 1000.0,1356.2 1003.6,1356.2 1007.0,1355.9 1010.4,1355.6 1013.8,1355.3 1017.2,1355.0 1020.7,1354.9 1024.2,1354.9 1027.9,1355.2 1031.7,1355.8 1035.5,1356.6 1039.4,1357.6 1043.4,1358.7 1047.6,1360.0 1051.9,1361.2 1056.4,1362.5 1061.1,1363.7 1066.1,1364.9 1071.4,1366.1 1076.9,1367.4 1082.5,1368.6 1088.3,1370.0 1094.0,1371.3 1099.7,1372.7 1105.2,1374.2 1110.7,1375.7 1116.3,1377.3 1121.8,1378.9 1127.3,1380.6 1132.8,1382.3 1138.3,1384.0 1143.8,1385.8 1149.4,1387.6 1154.9,1389.5 1160.4,1391.4 1165.9,1393.4 1171.4,1395.3 1176.9,1397.3 1182.5,1399.3 1188.1,1401.3 1193.6,1403.1 1199.4,1404.9 1205.3,1406.7 1211.3,1408.4 1217.3,1410.1 1223.1,1411.8 1228.5,1413.4 1233.5,1414.9 1238.0,1416.4 1241.7,1417.7 1244.9,1419.0 1247.7,1420.3 1250.2,1421.5 1252.6,1422.7 1254.9,1423.9 1257.4,1425.1 1260.1,1426.3 1262.8,1427.4 1265.4,1428.5 1268.0,1429.6 1270.6,1430.6 1273.3,1431.7 1276.1,1432.8 1279.2,1433.9 1282.6,1435.0 1286.2,1436.2 1290.0,1437.3 1294.1,1438.5 1298.2,1439.7 1302.6,1441.0 1307.0,1442.2 1311.4,1443.4 1315.9,1444.7 1320.6,1446.0 1325.4,1447.4 1330.5,1448.8 1335.5,1450.2 1340.6,1451.6 1345.5,1452.9 1350.3,1454.1 1354.7,1455.2 1358.7,1456.1 1362.2,1456.8 1365.5,1457.5 1368.7,1458.0 1371.9,1458.6 1375.4,1459.2 1379.4,1459.8 1383.9,1460.7 1389.1,1461.7 1394.8,1462.8 1400.9,1463.9 1407.3,1465.2 1413.8,1466.4 1420.4,1467.7 1426.9,1469.0 1433.2,1470.2 1439.3,1471.4 1445.5,1472.6 1451.6,1473.8 1457.8,1475.0 1464.0,1476.2 1470.1,1477.5 1476.3,1478.8 1482.4,1480.1 1488.6,1481.5 1494.8,1483.0 1500.9,1484.5 1507.1,1486.0 1513.2,1487.6 1519.4,1489.2 1525.6,1490.8 1531.7,1492.4 1537.8,1494.1 1544.0,1495.9 1550.1,1497.8 1556.3,1499.7 1562.4,1501.6 1568.6,1503.3 1574.8,1504.9 1581.0,1506.2 1587.1,1507.4 1593.3,1508.3 1599.5,1509.1 1605.7,1509.8 1611.8,1510.4 1618.0,1510.9 1624.2,1511.5 1630.3,1512.1 1636.5,1512.8 1642.7,1513.4 1648.8,1514.1 1655.0,1514.7 1661.1,1515.3 1667.3,1515.8 1673.5,1516.4 1679.6,1517.0 1685.8,1517.7 1692.2,1518.3 1698.5,1518.9 1704.8,1519.5 1711.1,1520.1 1717.2,1520.7 1723.1,1521.3 1728.8,1521.9 1734.5,1522.6 1740.3,1523.3 1746.0,1524.0 1751.6,1524.7 1756.7,1525.4 1761.4,1526.0 1765.2,1526.6 1768.2,1526.9" fill="none" stroke="#6a0000" stroke-width="11.5" stroke-linejoin="round" stroke-linecap="round"/>
<polyline points="229.5,1525.5 231.6,1524.9 234.3,1524.1 237.6,1523.1 241.2,1522.1 245.3,1521.0 249.7,1519.9 254.3,1518.9 259.2,1518.1 264.4,1517.3 270.1,1516.6 276.2,1516.0 282.6,1515.4 289.1,1514.8 295.7,1514.2 302.1,1513.7 308.4,1513.1 314.6,1512.4 320.7,1511.8 326.9,1511.2 333.1,1510.6 339.2,1510.0 345.4,1509.4 351.6,1508.8 357.7,1508.2 363.9,1507.6 370.0,1507.0 376.2,1506.5 382.3,1505.9 388.5,1505.3 394.6,1504.7 400.8,1504.0 406.9,1503.3 413.0,1502.4 419.2,1501.4 425.4,1500.4 431.5,1499.3 437.7,1498.2 443.8,1497.1 450.0,1496.0 456.2,1494.9 462.3,1493.8 468.5,1492.7 474.6,1491.6 480.8,1490.5 487.0,1489.3 493.1,1488.2 499.3,1487.0 505.4,1485.7 511.5,1484.4 517.7,1483.1 523.8,1481.7 530.0,1480.3 536.1,1478.9 542.2,1477.4 548.4,1476.0 554.5,1474.7 560.8,1473.4 567.2,1472.1 573.6,1470.8 580.0,1469.5 586.3,1468.2 592.4,1466.9 598.2,1465.7 603.7,1464.4 608.7,1463.1 613.3,1461.9 617.7,1460.7 621.8,1459.5 625.9,1458.2 630.1,1456.9 634.5,1455.5 639.3,1454.0 644.4,1452.4 649.7,1450.7 655.2,1449.0 660.8,1447.2 666.4,1445.4 672.1,1443.5 677.7,1441.7 683.2,1439.8 688.9,1437.8 694.7,1435.7 700.7,1433.6 706.6,1431.4 712.3,1429.3 717.8,1427.2 722.8,1425.3 727.2,1423.6 730.7,1422.2 733.4,1421.0 735.6,1420.0 737.7,1419.0 739.8,1418.0 742.3,1416.8 745.4,1415.6 749.3,1414.0 754.1,1412.2 759.6,1410.2 765.7,1408.1 772.1,1405.8 778.6,1403.6 785.1,1401.4 791.4,1399.3 797.2,1397.4 802.8,1395.6 808.2,1394.0 813.6,1392.4 818.8,1391.0 823.8,1389.5 828.8,1388.1 833.5,1386.7 838.1,1385.2 842.6,1383.7 846.9,1382.1 851.0,1380.5 855.1,1378.9 859.1,1377.3 863.1,1375.8 867.0,1374.4 870.8,1373.0 874.6,1371.8 878.2,1370.6 881.7,1369.5 885.1,1368.5 888.5,1367.5 892.0,1366.6 895.5,1365.7 899.0,1364.9 902.5,1364.1 905.9,1363.4 909.2,1362.8 912.5,1362.2 916.0,1361.6 919.6,1361.1 923.5,1360.5 927.8,1359.8 932.4,1359.0 937.6,1358.2 943.1,1357.3 948.7,1356.3 954.4,1355.5 959.9,1354.7 965.1,1354.1 969.9,1353.8 974.3,1353.6 978.4,1353.8 982.2,1354.1 985.9,1354.5 989.4,1354.9 992.9,1355.3 996.4,1355.6 1000.0,1355.8 1003.5,1355.6 1007.0,1355.3 1010.4,1354.9 1013.7,1354.5 1017.1,1354.1 1020.6,1353.7 1024.3,1353.6 1028.1,1353.8 1032.0,1354.1 1035.9,1354.7 1039.9,1355.5 1044.0,1356.3 1048.3,1357.3 1052.6,1358.3 1057.1,1359.3 1061.9,1360.3 1066.9,1361.3 1072.2,1362.4 1077.7,1363.5 1083.4,1364.7 1089.2,1365.9 1094.9,1367.1 1100.7,1368.5 1106.4,1369.8 1111.9,1371.2 1117.5,1372.7 1123.1,1374.2 1128.7,1375.7 1134.3,1377.3 1139.9,1379.0 1145.5,1380.6 1151.0,1382.4 1156.6,1384.2 1162.2,1386.1 1167.8,1388.1 1173.3,1390.1 1178.8,1392.1 1184.4,1394.1 1189.9,1396.0 1195.4,1397.9 1201.0,1399.7 1206.9,1401.5 1212.8,1403.3 1218.8,1405.0 1224.5,1406.8 1230.0,1408.4 1235.1,1410.1 1239.6,1411.6 1243.5,1413.1 1246.9,1414.6 1249.8,1416.0 1252.4,1417.3 1254.7,1418.5 1257.0,1419.8 1259.4,1420.9 1261.9,1422.1 1264.6,1423.3 1267.2,1424.5 1269.7,1425.6 1272.2,1426.7 1274.8,1427.8 1277.6,1428.9 1280.6,1430.0 1283.8,1431.2 1287.4,1432.4 1291.2,1433.6 1295.2,1434.9 1299.3,1436.1 1303.6,1437.4 1308.0,1438.7 1312.4,1440.0 1316.9,1441.3 1321.5,1442.7 1326.4,1444.2 1331.3,1445.8 1336.4,1447.3 1341.4,1448.8 1346.3,1450.3 1350.9,1451.6 1355.3,1452.8 1359.2,1453.8 1362.7,1454.6 1365.9,1455.2 1369.1,1455.8 1372.3,1456.4 1375.8,1457.1 1379.8,1457.8 1384.3,1458.7 1389.5,1459.8 1395.2,1460.9 1401.2,1462.2 1407.6,1463.5 1414.1,1464.8 1420.7,1466.2 1427.2,1467.5 1433.4,1468.8 1439.6,1470.0 1445.8,1471.2 1451.9,1472.4 1458.1,1473.6 1464.3,1474.8 1470.4,1476.0 1476.6,1477.3 1482.8,1478.7 1488.9,1480.1 1495.1,1481.5 1501.3,1483.0 1507.4,1484.6 1513.6,1486.1 1519.8,1487.7 1525.9,1489.3 1532.1,1491.0 1538.3,1492.7 1544.4,1494.5 1550.6,1496.4 1556.7,1498.3 1562.9,1500.1 1569.0,1501.8 1575.1,1503.4 1581.2,1504.8 1587.4,1505.9 1593.5,1506.8 1599.7,1507.6 1605.8,1508.3 1612.0,1508.9 1618.1,1509.4 1624.3,1510.0 1630.5,1510.7 1636.6,1511.3 1642.8,1511.9 1649.0,1512.6 1655.1,1513.2 1661.3,1513.8 1667.5,1514.4 1673.6,1514.9 1679.8,1515.6 1686.0,1516.2 1692.3,1516.8 1698.7,1517.4 1705.0,1518.0 1711.2,1518.6 1717.4,1519.2 1723.3,1519.8 1729.0,1520.5 1734.7,1521.1 1740.5,1521.8 1746.2,1522.5 1751.8,1523.3 1756.9,1523.9 1761.5,1524.6 1765.4,1525.1 1768.4,1525.5" fill="none" stroke="#6a0000" stroke-width="11.5" stroke-linejoin="round" stroke-linecap="round"/>
<polyline points="229.8,1672.2 235.9,1671.3 244.1,1670.0 253.9,1668.5 264.7,1666.8 276.1,1665.0 287.6,1663.2 298.6,1661.5 308.6,1659.9 318.0,1658.5 327.2,1657.0 336.3,1655.6 345.4,1654.2 354.3,1652.8 363.0,1651.4 371.7,1650.0 380.1,1648.5 388.4,1647.1 396.4,1645.8 404.3,1644.4 412.1,1643.1 419.8,1641.7 427.4,1640.2 435.2,1638.7 443.0,1637.0 450.8,1635.3 458.7,1633.4 466.5,1631.4 474.4,1629.4 482.2,1627.4 490.1,1625.3 497.9,1623.3 505.8,1621.3 513.6,1619.4 521.5,1617.6 529.3,1615.8 537.2,1614.0 545.1,1612.2 552.9,1610.2 560.8,1608.1 568.7,1605.9 576.6,1603.4 584.5,1600.8 592.3,1598.1 600.2,1595.3 608.1,1592.4 616.0,1589.4 623.9,1586.2 631.8,1583.1 639.9,1579.7 648.2,1576.1 656.7,1572.3 665.1,1568.5 673.3,1564.6 681.1,1560.9 688.4,1557.4 694.9,1554.2 700.6,1551.3 705.4,1548.7 709.7,1546.3 713.6,1544.0 717.4,1541.7 721.2,1539.3 725.3,1536.7 729.9,1533.7 735.0,1530.4 740.4,1526.9 746.0,1523.3 751.7,1519.5 757.4,1515.5 763.2,1511.4 769.0,1507.2 774.7,1502.8 780.3,1498.3 786.0,1493.6 791.6,1488.7 797.2,1483.7 802.9,1478.7 808.4,1473.5 814.0,1468.4 819.5,1463.4 825.2,1458.1 831.0,1452.6 836.8,1447.0 842.6,1441.4 848.2,1436.0 853.6,1430.9 858.5,1426.2 862.9,1422.2 866.7,1418.7 870.0,1415.8 872.9,1413.3 875.5,1411.1 878.1,1409.0 880.6,1407.0 883.3,1405.0 886.2,1402.8 889.1,1400.5 892.1,1398.2 895.1,1396.0 898.0,1393.8 901.0,1391.6 904.0,1389.5 906.9,1387.5 909.9,1385.6 912.9,1383.7 915.9,1381.9 918.9,1380.1 921.8,1378.4 924.8,1376.7 927.8,1375.2 930.9,1373.7 934.0,1372.2 937.1,1370.9 940.2,1369.7 943.4,1368.6 946.6,1367.7 949.9,1366.7 953.2,1365.8 956.5,1364.9 960.0,1364.0 963.6,1363.0 967.3,1362.0 971.2,1361.0 975.1,1360.0 978.9,1359.1 982.8,1358.2 986.5,1357.5 990.0,1357.0 993.4,1356.6 996.6,1356.3 999.8,1356.1 1002.9,1356.0 1005.9,1356.0 1008.9,1356.2 1011.9,1356.5 1015.0,1357.0 1017.9,1357.7 1020.7,1358.6 1023.3,1359.6 1025.9,1360.8 1028.7,1362.1 1031.8,1363.6 1035.3,1365.1 1039.3,1366.6 1043.9,1368.2 1049.0,1369.9 1054.5,1371.7 1060.2,1373.6 1066.1,1375.7 1072.0,1377.9 1077.8,1380.3 1083.4,1382.8 1088.9,1385.5 1094.3,1388.3 1099.8,1391.2 1105.2,1394.3 1110.7,1397.5 1116.1,1400.9 1121.6,1404.4 1127.0,1408.0 1132.5,1411.7 1138.0,1415.7 1143.4,1419.7 1148.9,1424.0 1154.4,1428.3 1159.9,1432.7 1165.4,1437.1 1170.9,1441.6 1176.4,1446.1 1181.9,1450.7 1187.5,1455.3 1193.0,1460.1 1198.5,1464.9 1204.1,1469.6 1209.7,1474.4 1215.2,1479.1 1220.8,1483.8 1226.4,1488.6 1231.9,1493.4 1237.5,1498.2 1243.1,1502.9 1248.7,1507.6 1254.3,1512.1 1259.9,1516.5 1265.5,1520.7 1271.0,1524.7 1276.5,1528.6 1282.0,1532.4 1287.6,1536.2 1293.2,1539.9 1298.9,1543.6 1304.7,1547.3 1310.7,1551.0 1316.7,1554.7 1322.9,1558.4 1329.1,1562.1 1335.3,1565.7 1341.7,1569.2 1348.1,1572.6 1354.5,1575.9 1361.0,1579.0 1367.3,1582.0 1373.6,1584.9 1380.0,1587.7 1386.6,1590.5 1393.5,1593.2 1400.7,1595.9 1408.5,1598.7 1416.6,1601.5 1425.0,1604.3 1433.6,1607.1 1442.6,1609.8 1452.0,1612.5 1461.7,1615.2 1471.9,1617.9 1482.4,1620.5 1493.6,1623.1 1505.3,1625.7 1517.6,1628.2 1530.2,1630.7 1542.9,1633.1 1555.8,1635.5 1568.5,1637.9 1581.0,1640.2 1593.4,1642.5 1605.8,1644.8 1618.4,1647.1 1630.9,1649.3 1643.3,1651.5 1655.6,1653.5 1667.7,1655.5 1679.6,1657.4 1691.7,1659.3 1704.5,1661.2 1717.4,1663.0 1730.1,1664.7 1741.9,1666.2 1752.5,1667.6 1761.4,1668.8 1768.2,1669.7" fill="none" stroke="#6c006c" stroke-width="11.5" stroke-linejoin="round" stroke-linecap="round"/>
<polyline points="229.6,1670.8 235.7,1669.8 243.9,1668.5 253.7,1667.0 264.5,1665.3 275.9,1663.5 287.4,1661.8 298.3,1660.0 308.4,1658.5 317.7,1657.0 327.0,1655.5 336.1,1654.1 345.1,1652.7 354.0,1651.3 362.8,1649.9 371.4,1648.5 379.9,1647.1 388.1,1645.7 396.2,1644.3 404.1,1642.9 411.8,1641.6 419.5,1640.2 427.2,1638.7 434.9,1637.2 442.6,1635.6 450.5,1633.8 458.3,1631.9 466.2,1630.0 474.0,1628.0 481.9,1626.0 489.7,1623.9 497.6,1621.9 505.4,1619.9 513.3,1617.9 521.1,1616.1 529.0,1614.2 536.8,1612.4 544.6,1610.5 552.5,1608.4 560.3,1606.3 568.1,1603.9 575.9,1601.4 583.8,1598.8 591.6,1596.1 599.5,1593.2 607.3,1590.2 615.2,1587.2 623.0,1584.0 630.8,1580.7 638.8,1577.3 647.1,1573.6 655.5,1569.7 663.8,1565.8 671.9,1561.8 679.7,1558.0 686.8,1554.4 693.3,1551.0 698.9,1548.1 703.6,1545.4 707.7,1543.0 711.5,1540.6 715.1,1538.2 718.9,1535.7 722.9,1533.0 727.5,1529.9 732.5,1526.5 737.8,1523.0 743.2,1519.2 748.8,1515.4 754.5,1511.4 760.1,1507.2 765.8,1502.9 771.3,1498.6 776.7,1494.0 782.2,1489.3 787.7,1484.4 793.3,1479.3 798.8,1474.2 804.2,1469.0 809.7,1463.8 815.1,1458.6 820.5,1453.3 826.0,1447.6 831.6,1441.8 837.1,1435.9 842.5,1430.3 847.7,1424.9 852.6,1420.1 857.1,1415.8 861.2,1412.4 864.9,1409.5 868.2,1407.1 871.3,1405.1 874.2,1403.4 877.1,1401.8 880.0,1400.1 883.0,1398.2 886.2,1396.3 889.4,1394.3 892.7,1392.4 895.9,1390.5 899.1,1388.6 902.3,1386.8 905.5,1385.1 908.7,1383.4 911.8,1381.8 915.0,1380.2 918.1,1378.6 921.2,1377.1 924.3,1375.7 927.4,1374.3 930.6,1373.0 933.8,1371.8 937.0,1370.6 940.2,1369.6 943.4,1368.6 946.6,1367.7 949.9,1366.7 953.2,1365.8 956.5,1364.9 960.0,1364.0 963.6,1363.0 967.3,1362.0 971.2,1361.0 975.1,1360.0 978.9,1359.1 982.8,1358.2 986.5,1357.5 990.0,1357.0 993.4,1356.6 996.6,1356.3 999.8,1356.1 1002.9,1356.0 1005.9,1356.0 1008.9,1356.2 1011.9,1356.5 1015.0,1357.0 1017.9,1357.7 1020.7,1358.6 1023.3,1359.6 1025.9,1360.8 1028.7,1362.1 1031.8,1363.6 1035.3,1365.1 1039.3,1366.6 1043.9,1368.2 1049.0,1369.9 1054.5,1371.5 1060.3,1373.2 1066.3,1375.0 1072.3,1377.0 1078.2,1379.1 1084.0,1381.4 1089.6,1383.9 1095.2,1386.5 1100.9,1389.2 1106.5,1392.1 1112.1,1395.1 1117.7,1398.2 1123.3,1401.6 1129.0,1405.0 1134.6,1408.7 1140.2,1412.5 1145.8,1416.5 1151.4,1420.7 1157.0,1424.9 1162.6,1429.3 1168.1,1433.6 1173.7,1438.0 1179.3,1442.5 1184.9,1447.1 1190.4,1451.8 1196.0,1456.6 1201.6,1461.4 1207.1,1466.2 1212.6,1470.9 1218.2,1475.7 1223.7,1480.5 1229.2,1485.3 1234.7,1490.2 1240.2,1495.1 1245.7,1500.0 1251.1,1504.7 1256.6,1509.3 1262.1,1513.7 1267.5,1518.0 1272.9,1522.1 1278.3,1526.1 1283.7,1530.0 1289.2,1533.8 1294.7,1537.6 1300.3,1541.4 1306.1,1545.1 1312.0,1548.9 1318.0,1552.7 1324.0,1556.4 1330.2,1560.1 1336.4,1563.8 1342.7,1567.3 1349.0,1570.8 1355.5,1574.1 1361.8,1577.3 1368.1,1580.3 1374.3,1583.3 1380.7,1586.1 1387.2,1589.0 1394.0,1591.7 1401.3,1594.5 1408.9,1597.3 1417.0,1600.1 1425.4,1602.9 1434.1,1605.7 1443.1,1608.4 1452.4,1611.1 1462.1,1613.8 1472.2,1616.5 1482.8,1619.1 1493.9,1621.6 1505.6,1624.2 1517.9,1626.7 1530.4,1629.2 1543.2,1631.7 1556.0,1634.1 1568.8,1636.4 1581.2,1638.8 1593.6,1641.1 1606.1,1643.4 1618.6,1645.6 1631.1,1647.8 1643.6,1650.0 1655.9,1652.1 1668.0,1654.1 1679.8,1656.0 1692.0,1657.8 1704.7,1659.7 1717.7,1661.5 1730.3,1663.2 1742.1,1664.8 1752.7,1666.2 1761.6,1667.3 1768.4,1668.3" fill="none" stroke="#6c006c" stroke-width="11.5" stroke-linejoin="round" stroke-linecap="round"/>
<polyline points="229.9,1985.5 235.9,1984.6 243.7,1983.4 253.1,1982.0 263.6,1980.4 274.7,1978.7 286.3,1976.9 297.7,1975.1 308.7,1973.2 319.9,1971.3 331.9,1969.3 344.4,1967.1 357.0,1964.9 369.2,1962.7 380.8,1960.6 391.3,1958.6 400.4,1956.7 407.8,1955.0 414.0,1953.5 419.1,1952.1 423.5,1950.7 427.5,1949.4 431.4,1948.1 435.4,1946.8 440.0,1945.4 444.9,1944.0 449.8,1942.5 454.8,1941.1 459.7,1939.7 464.7,1938.2 469.6,1936.7 474.5,1935.2 479.5,1933.6 484.4,1932.1 489.4,1930.5 494.3,1928.9 499.3,1927.2 504.2,1925.5 509.2,1923.8 514.1,1922.1 519.1,1920.3 524.0,1918.5 529.0,1916.7 533.9,1914.9 538.9,1913.0 543.8,1911.0 548.8,1909.1 553.7,1907.1 558.7,1905.0 563.6,1903.0 568.6,1900.9 573.5,1898.8 578.5,1896.7 583.5,1894.5 588.5,1892.2 593.5,1889.9 598.5,1887.4 603.5,1884.8 608.5,1882.2 613.6,1879.6 618.6,1876.8 623.7,1873.9 628.7,1870.8 633.8,1867.6 638.8,1864.3 643.9,1860.7 649.0,1856.9 654.1,1853.0 659.2,1848.9 664.2,1844.8 669.1,1840.5 673.9,1836.2 678.6,1831.7 683.1,1827.2 687.5,1822.4 691.8,1817.5 695.9,1812.6 699.9,1807.7 703.7,1802.9 707.3,1798.3 710.8,1794.0 713.9,1790.0 716.8,1786.1 719.5,1782.4 722.0,1778.9 724.5,1775.4 726.9,1771.8 729.3,1768.1 731.9,1764.3 734.5,1760.3 737.1,1756.2 739.8,1752.1 742.4,1747.9 745.0,1743.7 747.7,1739.4 750.3,1735.0 752.9,1730.6 755.6,1726.0 758.2,1721.4 760.9,1716.7 763.5,1711.9 766.1,1707.1 768.8,1702.3 771.4,1697.6 774.0,1692.9 776.6,1688.3 779.2,1683.9 781.8,1679.5 784.5,1675.0 787.2,1670.4 789.8,1665.5 792.5,1660.3 795.1,1654.7 797.7,1648.6 800.2,1641.9 802.6,1635.0 805.0,1628.0 807.4,1621.0 809.7,1614.2 812.1,1607.8 814.3,1602.0 816.6,1596.8 818.9,1591.9 821.1,1587.3 823.3,1582.8 825.6,1578.5 827.9,1574.1 830.2,1569.7 832.6,1565.0 835.0,1560.4 837.5,1555.7 840.0,1551.1 842.6,1546.4 845.1,1541.7 847.7,1536.8 850.3,1531.9 852.8,1526.9 855.3,1521.8 857.8,1516.6 860.2,1511.3 862.7,1506.0 865.1,1500.7 867.5,1495.3 870.0,1489.9 872.4,1484.6 874.8,1479.1 877.3,1473.5 879.7,1467.9 882.1,1462.3 884.5,1456.8 886.9,1451.5 889.4,1446.4 891.8,1441.6 894.4,1437.0 897.0,1432.7 899.7,1428.5 902.4,1424.5 905.1,1420.6 907.8,1416.9 910.5,1413.2 913.1,1409.7 915.7,1406.4 918.2,1403.2 920.6,1400.2 923.0,1397.4 925.5,1394.6 928.2,1391.9 931.0,1389.1 934.1,1386.4 937.5,1383.4 941.2,1380.4 945.1,1377.4 949.1,1374.4 953.2,1371.6 957.3,1368.9 961.3,1366.5 965.2,1364.5 969.2,1362.8 973.4,1361.4 977.7,1360.2 982.0,1359.2 986.0,1358.5 989.7,1357.9 992.7,1357.4 995.0,1357.0" fill="none" stroke="#005f00" stroke-width="10.5" stroke-linejoin="round" stroke-linecap="round"/>
<polyline points="229.5,1983.1 235.5,1982.2 243.4,1981.0 252.7,1979.6 263.2,1978.0 274.4,1976.3 285.9,1974.5 297.3,1972.6 308.3,1970.8 319.5,1968.8 331.5,1966.6 343.9,1964.3 356.4,1962.0 368.7,1959.6 380.2,1957.4 390.6,1955.2 399.6,1953.3 407.0,1951.6 413.0,1950.0 418.1,1948.5 422.4,1947.1 426.3,1945.8 430.1,1944.4 434.2,1943.0 438.8,1941.6 443.7,1940.1 448.7,1938.6 453.6,1937.1 458.5,1935.6 463.4,1934.1 468.3,1932.5 473.2,1931.0 478.1,1929.4 483.0,1927.7 487.9,1926.1 492.8,1924.4 497.7,1922.7 502.6,1921.0 507.5,1919.3 512.4,1917.5 517.3,1915.7 522.2,1913.8 527.1,1911.9 532.0,1910.0 536.9,1908.1 541.8,1906.1 546.7,1904.1 551.6,1902.1 556.5,1900.0 561.4,1897.8 566.3,1895.7 571.2,1893.5 576.1,1891.3 580.9,1889.0 585.8,1886.6 590.6,1884.2 595.5,1881.6 600.4,1878.9 605.2,1876.2 610.1,1873.4 615.0,1870.5 619.8,1867.6 624.6,1864.4 629.4,1861.2 634.2,1857.7 639.0,1854.1 643.8,1850.3 648.7,1846.3 653.5,1842.2 658.3,1838.0 663.0,1833.7 667.5,1829.4 671.8,1825.1 676.0,1820.6 680.1,1815.9 684.2,1811.1 688.1,1806.2 691.9,1801.3 695.6,1796.6 699.1,1791.9 702.4,1787.6 705.5,1783.6 708.3,1779.8 710.9,1776.3 713.4,1772.8 715.8,1769.4 718.2,1765.9 720.6,1762.3 723.1,1758.5 725.7,1754.6 728.3,1750.6 730.9,1746.5 733.5,1742.4 736.1,1738.2 738.7,1733.9 741.3,1729.6 743.9,1725.2 746.5,1720.8 749.1,1716.2 751.7,1711.5 754.3,1706.8 756.9,1702.1 759.6,1697.3 762.2,1692.5 764.8,1687.7 767.5,1683.1 770.2,1678.5 772.8,1674.1 775.4,1669.7 778.0,1665.3 780.6,1660.6 783.0,1655.7 785.5,1650.5 787.9,1644.7 790.3,1638.3 792.7,1631.6 795.0,1624.6 797.4,1617.5 799.8,1610.6 802.2,1604.1 804.7,1598.0 807.1,1592.5 809.6,1587.4 812.0,1582.6 814.4,1578.1 816.8,1573.8 819.3,1569.4 821.7,1565.1 824.2,1560.6 826.8,1555.9 829.4,1551.3 832.0,1546.6 834.7,1542.0 837.4,1537.4 840.0,1532.7 842.6,1527.9 845.2,1523.1 847.8,1518.1 850.3,1513.0 852.9,1507.9 855.4,1502.6 858.0,1497.3 860.5,1492.0 863.1,1486.7 865.6,1481.4 868.1,1476.1 870.6,1470.6 873.2,1465.0 875.7,1459.5 878.2,1453.9 880.8,1448.5 883.5,1443.3 886.2,1438.4 888.9,1433.8 891.7,1429.3 894.5,1425.1 897.4,1421.0 900.3,1417.1 903.1,1413.4 906.0,1409.7 908.9,1406.3 911.6,1403.0 914.3,1399.9 917.0,1397.0 919.7,1394.2 922.5,1391.6 925.4,1388.9 928.5,1386.3 931.9,1383.6 935.6,1380.9 939.5,1378.1 943.6,1375.3 947.9,1372.6 952.2,1370.0 956.5,1367.5 960.7,1365.4 964.8,1363.5 968.9,1362.1 973.3,1360.9 977.7,1359.9 982.0,1359.1 986.0,1358.5 989.7,1357.9 992.7,1357.4 995.0,1357.0" fill="none" stroke="#005f00" stroke-width="10.5" stroke-linejoin="round" stroke-linecap="round"/>
<polyline points="1003.0,1357.0 1004.1,1357.1 1005.3,1357.1 1006.8,1357.0 1008.5,1357.0 1010.6,1357.3 1013.1,1357.8 1016.1,1358.6 1019.6,1360.0 1023.8,1361.8 1028.8,1364.0 1034.3,1366.5 1040.2,1369.2 1046.3,1372.4 1052.4,1375.8 1058.2,1379.6 1063.6,1383.7 1068.7,1388.2 1073.7,1393.1 1078.6,1398.3 1083.5,1403.9 1088.2,1409.7 1092.9,1415.8 1097.4,1422.1 1101.9,1428.6 1106.1,1435.3 1110.2,1442.1 1114.1,1449.2 1117.9,1456.5 1121.8,1464.1 1125.7,1471.9 1129.8,1480.2 1134.0,1488.7 1138.6,1497.7 1143.3,1507.2 1148.1,1517.2 1153.0,1527.4 1158.0,1537.7 1162.9,1548.0 1167.8,1558.1 1172.5,1567.9 1177.2,1577.6 1181.9,1587.6 1186.7,1597.5 1191.4,1607.4 1196.0,1617.0 1200.3,1626.1 1204.5,1634.6 1208.3,1642.3 1211.8,1649.2 1214.9,1655.2 1217.8,1660.6 1220.4,1665.5 1223.0,1670.1 1225.4,1674.7 1227.9,1679.3 1230.5,1684.3 1233.2,1689.5 1235.8,1694.7 1238.4,1700.0 1241.0,1705.2 1243.6,1710.4 1246.2,1715.7 1248.8,1720.9 1251.4,1726.1 1254.0,1731.4 1256.7,1736.7 1259.3,1742.1 1262.0,1747.4 1264.7,1752.8 1267.4,1758.0 1270.1,1763.0 1272.8,1767.9 1275.6,1772.6 1278.3,1777.1 1281.1,1781.5 1283.9,1785.8 1286.6,1789.9 1289.4,1793.9 1292.2,1797.7 1295.0,1801.3 1297.7,1804.7 1300.3,1807.7 1302.8,1810.6 1305.4,1813.2 1308.0,1815.9 1310.8,1818.5 1313.8,1821.2 1317.0,1824.2 1320.4,1827.3 1324.1,1830.5 1327.9,1833.8 1331.8,1837.2 1335.9,1840.6 1340.2,1844.0 1344.7,1847.4 1349.3,1850.8 1354.1,1854.2 1359.1,1857.6 1364.4,1861.0 1369.8,1864.5 1375.3,1867.9 1380.8,1871.2 1386.2,1874.5 1391.6,1877.7 1396.9,1880.8 1402.5,1883.9 1408.0,1887.1 1413.6,1890.1 1419.0,1893.0 1424.2,1895.8 1429.0,1898.4 1433.5,1900.7 1437.6,1902.8 1441.2,1904.6 1444.6,1906.3 1447.7,1907.8 1450.7,1909.2 1453.6,1910.6 1456.5,1911.9 1459.5,1913.3 1462.2,1914.7 1464.7,1915.9 1467.0,1917.1 1469.3,1918.3 1471.8,1919.5 1474.6,1920.8 1478.0,1922.2 1482.1,1923.9 1487.0,1925.7 1492.6,1927.8 1498.7,1930.1 1505.2,1932.4 1511.8,1934.8 1518.6,1937.1 1525.2,1939.2 1531.5,1941.2 1537.7,1943.0 1543.9,1944.6 1550.1,1946.2 1556.2,1947.7 1562.4,1949.1 1568.5,1950.6 1574.7,1952.0 1580.8,1953.5 1586.9,1955.1 1593.1,1956.7 1599.3,1958.3 1605.4,1959.9 1611.6,1961.5 1617.8,1963.0 1624.0,1964.5 1630.1,1965.8 1636.3,1967.1 1642.5,1968.3 1648.7,1969.4 1654.9,1970.4 1661.0,1971.4 1667.2,1972.4 1673.4,1973.3 1679.5,1974.2 1685.8,1975.1 1692.1,1976.0 1698.5,1976.9 1704.9,1977.7 1711.2,1978.4 1717.3,1979.2 1723.2,1979.9 1728.7,1980.6 1734.2,1981.4 1739.7,1982.1 1745.1,1982.8 1750.3,1983.5 1755.1,1984.1 1759.4,1984.7 1763.0,1985.2 1765.7,1985.5" fill="none" stroke="#005f00" stroke-width="10.5" stroke-linejoin="round" stroke-linecap="round"/>
<polyline points="1003.0,1357.0 1004.1,1357.1 1005.3,1357.1 1006.8,1357.0 1008.5,1357.0 1010.6,1357.3 1013.1,1357.8 1016.1,1358.6 1019.6,1360.0 1023.9,1361.8 1028.9,1363.8 1034.5,1366.2 1040.4,1368.9 1046.5,1371.9 1052.7,1375.3 1058.6,1378.9 1064.2,1382.9 1069.5,1387.3 1074.7,1392.0 1079.9,1397.1 1085.0,1402.6 1090.0,1408.2 1095.0,1414.2 1099.9,1420.3 1104.7,1426.6 1109.5,1433.0 1114.1,1439.6 1118.7,1446.4 1123.2,1453.5 1127.7,1460.8 1132.2,1468.4 1136.8,1476.4 1141.6,1484.7 1146.5,1493.6 1151.5,1503.0 1156.6,1512.9 1161.8,1523.0 1167.0,1533.3 1172.1,1543.5 1177.1,1553.5 1181.9,1563.3 1186.7,1573.0 1191.5,1583.0 1196.3,1593.0 1201.0,1602.8 1205.5,1612.4 1209.8,1621.5 1213.9,1630.0 1217.7,1637.7 1221.1,1644.4 1224.2,1650.3 1227.0,1655.6 1229.6,1660.5 1232.2,1665.1 1234.7,1669.7 1237.2,1674.4 1239.9,1679.5 1242.6,1684.8 1245.2,1690.0 1247.9,1695.3 1250.5,1700.5 1253.1,1705.8 1255.6,1711.0 1258.2,1716.2 1260.8,1721.5 1263.4,1726.8 1266.0,1732.2 1268.5,1737.6 1271.1,1743.0 1273.6,1748.3 1276.2,1753.5 1278.7,1758.5 1281.2,1763.3 1283.7,1768.0 1286.2,1772.5 1288.7,1776.9 1291.1,1781.3 1293.6,1785.4 1296.1,1789.4 1298.6,1793.2 1301.0,1796.9 1303.4,1800.2 1305.7,1803.3 1307.9,1806.1 1310.2,1808.8 1312.5,1811.5 1315.1,1814.3 1317.8,1817.1 1320.8,1820.2 1324.1,1823.5 1327.5,1826.9 1331.0,1830.4 1334.8,1833.9 1338.6,1837.4 1342.7,1841.0 1346.9,1844.5 1351.3,1848.0 1356.0,1851.5 1360.9,1855.0 1366.1,1858.5 1371.4,1862.1 1376.8,1865.5 1382.2,1869.0 1387.6,1872.3 1392.8,1875.5 1398.2,1878.7 1403.6,1881.8 1409.2,1884.9 1414.7,1887.9 1420.1,1890.8 1425.3,1893.6 1430.2,1896.1 1434.7,1898.5 1438.7,1900.6 1442.3,1902.4 1445.7,1904.1 1448.8,1905.6 1451.8,1907.0 1454.7,1908.3 1457.6,1909.7 1460.5,1911.1 1463.4,1912.4 1465.8,1913.7 1468.1,1914.9 1470.4,1916.0 1472.8,1917.2 1475.7,1918.5 1479.0,1919.9 1483.1,1921.5 1487.9,1923.4 1493.5,1925.5 1499.6,1927.7 1506.0,1930.1 1512.7,1932.4 1519.4,1934.7 1525.9,1936.8 1532.3,1938.8 1538.4,1940.6 1544.5,1942.2 1550.7,1943.8 1556.8,1945.2 1562.9,1946.7 1569.1,1948.1 1575.2,1949.6 1581.4,1951.1 1587.6,1952.7 1593.7,1954.3 1599.9,1955.9 1606.1,1957.5 1612.2,1959.1 1618.4,1960.6 1624.5,1962.0 1630.7,1963.4 1636.8,1964.6 1643.0,1965.8 1649.1,1966.9 1655.3,1967.9 1661.4,1968.9 1667.6,1969.9 1673.7,1970.8 1679.9,1971.8 1686.1,1972.7 1692.5,1973.5 1698.9,1974.4 1705.2,1975.2 1711.5,1976.0 1717.6,1976.7 1723.5,1977.4 1729.1,1978.2 1734.5,1978.9 1740.0,1979.6 1745.5,1980.3 1750.6,1981.0 1755.4,1981.6 1759.7,1982.2 1763.3,1982.7 1766.1,1983.1" fill="none" stroke="#005f00" stroke-width="10.5" stroke-linejoin="round" stroke-linecap="round"/>
<path d="M229.2,2327.9 C231.2,2327.6 237.4,2326.7 241.4,2326.1 C245.4,2325.5 249.1,2325.0 253.1,2324.4 C257.0,2323.8 261.0,2323.2 265.0,2322.6 C269.0,2322.0 273.0,2321.4 276.9,2320.8 C280.9,2320.2 284.9,2319.5 288.8,2318.9 C292.8,2318.2 296.8,2317.5 300.7,2316.8 C304.7,2316.2 308.7,2315.5 312.6,2314.8 C316.6,2314.1 320.5,2313.4 324.5,2312.7 C328.5,2311.9 332.4,2311.2 336.4,2310.4 C340.3,2309.7 344.2,2308.8 348.2,2308.0 C352.1,2307.1 356.0,2306.1 359.9,2305.2 C363.8,2304.3 367.7,2303.3 371.6,2302.3 C375.5,2301.3 379.4,2300.3 383.3,2299.4 C387.2,2298.4 391.1,2297.4 395.0,2296.4 C398.9,2295.3 402.8,2294.3 406.6,2293.2 C410.5,2292.1 414.4,2291.0 418.2,2289.9 C422.1,2288.8 425.9,2287.6 429.8,2286.5 C433.6,2285.3 437.5,2284.2 441.3,2283.0 C445.2,2281.8 449.1,2280.7 452.9,2279.5 C456.7,2278.3 460.6,2277.1 464.4,2275.8 C468.2,2274.5 472.0,2273.2 475.8,2271.8 C479.6,2270.5 483.3,2269.1 487.1,2267.7 C490.9,2266.3 494.6,2264.9 498.4,2263.5 C502.2,2262.1 505.9,2260.7 509.7,2259.2 C513.4,2257.7 517.2,2256.3 520.9,2254.7 C524.5,2253.1 528.2,2251.5 531.8,2249.8 C535.4,2248.0 539.0,2246.2 542.5,2244.3 C546.0,2242.3 549.5,2240.3 552.9,2238.2 C556.3,2236.0 559.6,2233.8 562.8,2231.4 C566.0,2229.0 569.1,2226.4 572.1,2223.8 C575.1,2221.1 578.0,2218.3 580.8,2215.5 C583.6,2212.6 586.4,2209.7 589.1,2206.7 C591.8,2203.8 594.5,2200.8 597.1,2197.7 C599.7,2194.7 602.4,2191.7 604.9,2188.6 C607.5,2185.5 610.0,2182.3 612.5,2179.2 C615.0,2176.1 617.5,2172.9 619.9,2169.7 C622.4,2166.5 624.9,2163.3 627.2,2160.1 C629.6,2156.9 632.0,2153.6 634.2,2150.3 C636.5,2147.0 638.6,2143.6 640.7,2140.1 C642.8,2136.7 644.8,2133.2 646.8,2129.8 C648.9,2126.3 650.8,2122.8 652.8,2119.3 C654.7,2115.7 656.6,2112.2 658.5,2108.6 C660.3,2105.1 662.1,2101.5 663.8,2097.8 C665.6,2094.2 667.2,2090.6 668.9,2086.9 C670.5,2083.2 672.2,2079.6 673.8,2075.9 C675.4,2072.2 677.0,2068.5 678.6,2064.8 C680.2,2061.1 681.8,2057.4 683.3,2053.7 C684.9,2050.0 686.4,2046.3 687.9,2042.6 C689.4,2038.8 690.9,2035.1 692.4,2031.4 C693.9,2027.6 695.4,2023.9 696.8,2020.1 C698.3,2016.4 699.8,2012.7 701.2,2008.9 C702.6,2005.1 703.9,2001.3 705.2,1997.5 C706.6,1993.7 707.9,1989.9 709.1,1986.1 C710.4,1982.3 711.7,1978.5 713.0,1974.7 C714.2,1970.9 715.5,1967.0 716.8,1963.2 C718.0,1959.4 719.3,1955.6 720.5,1951.8 C721.8,1947.9 723.0,1944.1 724.2,1940.3 C725.4,1936.4 726.6,1932.6 727.8,1928.7 C728.9,1924.9 730.1,1921.0 731.2,1917.2 C732.4,1913.3 733.6,1909.5 734.7,1905.6 C735.9,1901.8 737.0,1897.9 738.2,1894.1 C739.4,1890.2 740.5,1886.4 741.7,1882.5 C742.8,1878.7 744.0,1874.8 745.1,1871.0 C746.3,1867.1 747.4,1863.3 748.6,1859.4 C749.8,1855.6 750.9,1851.7 752.1,1847.9 C753.2,1844.0 754.4,1840.2 755.5,1836.3 C756.7,1832.5 757.8,1828.6 759.0,1824.7 C760.1,1820.9 761.3,1817.0 762.4,1813.2 C763.6,1809.3 764.7,1805.5 765.9,1801.6 C767.1,1797.8 768.2,1793.9 769.4,1790.1 C770.5,1786.2 771.7,1782.4 772.8,1778.5 C774.0,1774.7 775.1,1770.8 776.3,1767.0 C777.5,1763.1 778.7,1759.3 779.9,1755.4 C781.1,1751.6 782.3,1747.8 783.6,1744.0 C784.8,1740.1 786.1,1736.3 787.4,1732.5 C788.6,1728.7 789.9,1724.9 791.2,1721.1 C792.5,1717.3 793.7,1713.4 795.0,1709.6 C796.3,1705.8 797.6,1702.0 798.9,1698.2 C800.3,1694.4 801.6,1690.6 803.0,1686.9 C804.4,1683.1 805.9,1679.4 807.3,1675.6 C808.8,1671.8 810.2,1668.1 811.7,1664.4 C813.2,1660.6 814.6,1656.9 816.2,1653.2 C817.7,1649.5 819.3,1645.8 821.0,1642.1 C822.6,1638.4 824.4,1634.8 826.1,1631.2 C827.9,1627.6 829.7,1624.0 831.5,1620.4 C833.3,1616.8 835.1,1613.2 836.8,1609.6 C838.5,1606.0 840.2,1602.3 841.8,1598.6 C843.4,1594.9 844.9,1591.2 846.5,1587.5 C848.0,1583.8 849.5,1580.0 851.0,1576.3 C852.5,1572.6 854.0,1568.8 855.4,1565.1 C856.9,1561.4 858.4,1557.6 859.9,1553.9 C861.4,1550.2 862.9,1546.4 864.4,1542.7 C865.9,1539.0 867.4,1535.2 868.9,1531.5 C870.4,1527.8 871.9,1524.0 873.4,1520.3 C874.8,1516.6 876.3,1512.8 877.9,1509.1 C879.4,1505.4 880.9,1501.7 882.5,1498.0 C884.2,1494.3 885.8,1490.7 887.5,1487.0 C889.2,1483.4 891.0,1479.8 892.8,1476.2 C894.6,1472.6 896.4,1469.0 898.2,1465.4 C900.1,1461.8 901.9,1458.3 903.9,1454.8 C905.8,1451.3 907.9,1447.8 910.0,1444.4 C912.1,1440.9 914.2,1437.6 916.4,1434.2 C918.7,1430.9 920.9,1427.5 923.2,1424.3 C925.6,1421.0 927.9,1417.7 930.4,1414.5 C932.8,1411.3 935.3,1408.2 937.8,1405.1 C940.4,1402.0 943.0,1399.0 945.7,1396.0 C948.5,1393.1 951.2,1390.2 954.1,1387.4 C957.0,1384.6 960.0,1381.9 963.1,1379.4 C966.2,1376.9 969.4,1374.4 972.7,1372.3 C976.1,1370.2 979.6,1368.2 983.1,1366.7 C986.7,1365.2 990.5,1364.1 994.1,1363.4 C997.7,1362.6 1001.6,1362.5 1004.6,1362.3 C1007.6,1362.2 1010.8,1362.5 1012.0,1362.5" fill="none" stroke="#0000f4" stroke-width="10.5" stroke-linejoin="round" stroke-linecap="round"/>
<path d="M229.2,2330.0 C231.2,2329.7 237.4,2328.6 241.4,2328.0 C245.3,2327.3 249.1,2326.7 253.0,2326.0 C257.0,2325.4 261.0,2324.7 265.0,2324.0 C268.9,2323.4 272.9,2322.7 276.9,2322.1 C280.9,2321.4 284.8,2320.7 288.8,2320.1 C292.8,2319.4 296.8,2318.7 300.7,2318.1 C304.7,2317.4 308.7,2316.8 312.7,2316.1 C316.6,2315.4 320.6,2314.8 324.6,2314.1 C328.5,2313.4 332.5,2312.7 336.5,2311.9 C340.4,2311.1 344.3,2310.3 348.3,2309.4 C352.2,2308.5 356.1,2307.5 360.0,2306.5 C363.9,2305.5 367.8,2304.4 371.7,2303.4 C375.6,2302.3 379.4,2301.3 383.3,2300.2 C387.2,2299.2 391.1,2298.2 395.0,2297.1 C398.9,2296.1 402.8,2295.0 406.7,2294.0 C410.6,2292.9 414.5,2291.9 418.4,2290.9 C422.3,2289.8 426.1,2288.8 430.0,2287.7 C433.9,2286.7 437.8,2285.6 441.7,2284.6 C445.6,2283.5 449.5,2282.5 453.4,2281.4 C457.2,2280.3 461.1,2279.2 464.9,2277.9 C468.8,2276.7 472.6,2275.4 476.4,2274.1 C480.2,2272.8 484.0,2271.4 487.7,2270.0 C491.5,2268.6 495.3,2267.2 499.1,2265.8 C502.8,2264.4 506.6,2263.0 510.4,2261.5 C514.1,2260.0 517.9,2258.6 521.5,2257.0 C525.2,2255.3 528.9,2253.6 532.4,2251.8 C536.0,2250.0 539.5,2248.1 543.1,2246.1 C546.6,2244.1 550.0,2242.1 553.5,2240.1 C557.0,2238.0 560.5,2236.0 564.0,2234.0 C567.4,2231.9 570.9,2229.9 574.4,2227.9 C577.9,2225.9 581.4,2223.9 584.9,2221.9 C588.4,2219.9 591.9,2217.9 595.4,2215.9 C598.9,2213.8 602.4,2211.9 605.8,2209.8 C609.3,2207.7 612.7,2205.6 616.0,2203.4 C619.4,2201.2 622.6,2198.8 625.8,2196.4 C629.1,2194.0 632.2,2191.5 635.3,2188.9 C638.4,2186.4 641.5,2183.8 644.5,2181.1 C647.5,2178.5 650.6,2175.8 653.4,2173.0 C656.3,2170.2 659.1,2167.4 661.7,2164.4 C664.4,2161.4 666.8,2158.2 669.3,2155.0 C671.7,2151.8 674.1,2148.5 676.4,2145.3 C678.7,2142.0 681.1,2138.7 683.2,2135.3 C685.4,2132.0 687.5,2128.6 689.4,2125.1 C691.3,2121.6 693.0,2117.9 694.7,2114.3 C696.4,2110.7 697.9,2106.9 699.6,2103.3 C701.3,2099.6 702.9,2096.0 704.7,2092.4 C706.5,2088.8 708.4,2085.2 710.2,2081.6 C712.0,2078.0 713.9,2074.5 715.6,2070.8 C717.3,2067.2 719.0,2063.5 720.6,2059.8 C722.2,2056.1 723.7,2052.4 725.2,2048.7 C726.8,2045.0 728.3,2041.2 729.7,2037.5 C731.2,2033.7 732.7,2030.0 734.1,2026.2 C735.5,2022.4 736.9,2018.7 738.2,2014.9 C739.5,2011.1 740.8,2007.2 742.0,2003.4 C743.2,1999.5 744.3,1995.7 745.5,1991.8 C746.7,1988.0 747.8,1984.1 749.0,1980.2 C750.1,1976.4 751.3,1972.5 752.4,1968.7 C753.6,1964.8 754.8,1960.9 755.9,1957.1 C757.1,1953.2 758.2,1949.4 759.4,1945.5 C760.5,1941.7 761.7,1937.8 762.9,1933.9 C764.0,1930.1 765.2,1926.2 766.4,1922.4 C767.5,1918.5 768.7,1914.6 769.8,1910.8 C771.0,1906.9 772.2,1903.1 773.3,1899.2 C774.5,1895.4 775.6,1891.5 776.8,1887.6 C777.9,1883.8 779.1,1879.9 780.3,1876.1 C781.4,1872.2 782.6,1868.3 783.7,1864.5 C784.9,1860.6 786.0,1856.8 787.2,1852.9 C788.3,1849.0 789.5,1845.2 790.6,1841.3 C791.8,1837.4 792.9,1833.6 794.0,1829.7 C795.1,1825.8 796.2,1821.9 797.2,1818.1 C798.3,1814.2 799.3,1810.3 800.4,1806.4 C801.4,1802.5 802.5,1798.6 803.5,1794.7 C804.6,1790.8 805.6,1786.9 806.6,1783.0 C807.7,1779.2 808.8,1775.3 809.9,1771.4 C811.0,1767.5 812.2,1763.7 813.4,1759.8 C814.6,1756.0 815.8,1752.2 817.1,1748.3 C818.3,1744.5 819.6,1740.7 820.9,1736.9 C822.1,1733.0 823.4,1729.2 824.7,1725.4 C826.0,1721.6 827.2,1717.7 828.5,1713.9 C829.8,1710.1 831.1,1706.3 832.4,1702.5 C833.6,1698.6 834.9,1694.8 836.2,1691.0 C837.5,1687.2 838.8,1683.4 840.2,1679.6 C841.5,1675.8 842.8,1672.0 844.1,1668.2 C845.4,1664.3 846.7,1660.5 848.0,1656.7 C849.3,1652.9 850.6,1649.1 851.9,1645.3 C853.2,1641.5 854.4,1637.6 855.7,1633.8 C857.0,1630.0 858.3,1626.2 859.6,1622.4 C860.9,1618.5 862.1,1614.7 863.4,1610.9 C864.7,1607.1 866.0,1603.3 867.2,1599.4 C868.5,1595.6 869.8,1591.8 871.1,1588.0 C872.3,1584.1 873.6,1580.3 874.9,1576.5 C876.2,1572.7 877.4,1568.9 878.7,1565.0 C880.0,1561.2 881.2,1557.4 882.5,1553.6 C883.8,1549.7 885.0,1545.9 886.3,1542.1 C887.6,1538.3 888.9,1534.4 890.2,1530.6 C891.5,1526.8 892.8,1523.0 894.3,1519.3 C895.7,1515.5 897.1,1511.8 898.7,1508.0 C900.2,1504.3 901.8,1500.6 903.4,1496.9 C904.9,1493.2 906.6,1489.5 908.2,1485.8 C909.8,1482.1 911.4,1478.4 913.1,1474.8 C914.8,1471.1 916.5,1467.5 918.2,1463.8 C920.0,1460.2 921.8,1456.6 923.6,1453.0 C925.5,1449.5 927.3,1445.9 929.2,1442.3 C931.1,1438.8 933.1,1435.2 935.1,1431.8 C937.1,1428.3 939.2,1424.9 941.4,1421.5 C943.6,1418.2 945.9,1414.9 948.3,1411.6 C950.7,1408.4 953.2,1405.2 955.7,1402.1 C958.2,1398.9 960.8,1395.8 963.4,1392.8 C966.1,1389.8 968.8,1386.8 971.6,1384.0 C974.4,1381.1 977.3,1378.3 980.4,1375.8 C983.4,1373.3 986.7,1370.8 990.0,1369.0 C993.3,1367.1 996.7,1365.7 1000.4,1364.6 C1004.0,1363.5 1010.1,1362.8 1012.0,1362.5 C1013.9,1362.2 1012.0,1362.5 1012.0,1362.5" fill="none" stroke="#0000f4" stroke-width="10.5" stroke-linejoin="round" stroke-linecap="round"/>
<path d="M988.0,1362.5 C989.9,1362.8 995.9,1363.1 999.4,1364.1 C1003.0,1365.2 1006.1,1366.7 1009.3,1368.7 C1012.4,1370.7 1015.3,1373.5 1018.1,1376.1 C1021.0,1378.8 1023.8,1381.8 1026.5,1384.7 C1029.3,1387.6 1032.0,1390.6 1034.7,1393.6 C1037.4,1396.6 1040.0,1399.6 1042.5,1402.7 C1045.0,1405.9 1047.4,1409.1 1049.8,1412.3 C1052.1,1415.6 1054.4,1418.9 1056.6,1422.3 C1058.9,1425.6 1061.0,1429.0 1063.1,1432.4 C1065.3,1435.8 1067.3,1439.3 1069.3,1442.8 C1071.3,1446.3 1073.2,1449.8 1075.2,1453.3 C1077.1,1456.9 1079.0,1460.4 1080.9,1464.0 C1082.7,1467.5 1084.5,1471.1 1086.3,1474.7 C1088.0,1478.4 1089.7,1482.0 1091.4,1485.7 C1093.1,1489.3 1094.8,1493.0 1096.4,1496.7 C1098.1,1500.3 1099.7,1504.0 1101.4,1507.7 C1103.0,1511.4 1104.6,1515.0 1106.2,1518.7 C1107.7,1522.4 1109.3,1526.2 1110.8,1529.9 C1112.3,1533.6 1113.8,1537.3 1115.3,1541.1 C1116.8,1544.8 1118.3,1548.6 1119.7,1552.3 C1121.1,1556.1 1122.5,1559.9 1123.8,1563.7 C1125.1,1567.5 1126.4,1571.3 1127.6,1575.1 C1128.8,1579.0 1129.9,1582.8 1131.1,1586.7 C1132.2,1590.5 1133.4,1594.4 1134.5,1598.3 C1135.6,1602.1 1136.6,1606.0 1137.7,1609.9 C1138.7,1613.8 1139.6,1617.7 1140.7,1621.6 C1141.7,1625.5 1142.7,1629.4 1143.8,1633.2 C1144.9,1637.1 1146.1,1640.9 1147.4,1644.7 C1148.7,1648.5 1150.2,1652.3 1151.6,1656.0 C1153.0,1659.8 1154.5,1663.5 1156.0,1667.3 C1157.5,1671.0 1158.9,1674.8 1160.3,1678.6 C1161.7,1682.3 1163.0,1686.1 1164.3,1689.9 C1165.6,1693.7 1166.9,1697.6 1168.1,1701.4 C1169.4,1705.2 1170.6,1709.1 1171.8,1712.9 C1173.0,1716.7 1174.2,1720.6 1175.4,1724.4 C1176.6,1728.3 1177.8,1732.1 1178.9,1736.0 C1180.1,1739.8 1181.2,1743.7 1182.3,1747.6 C1183.4,1751.4 1184.5,1755.3 1185.6,1759.2 C1186.7,1763.0 1187.8,1766.9 1188.9,1770.8 C1190.0,1774.7 1191.0,1778.5 1192.1,1782.4 C1193.2,1786.3 1194.3,1790.2 1195.4,1794.1 C1196.5,1797.9 1197.5,1801.8 1198.6,1805.7 C1199.7,1809.6 1200.8,1813.4 1201.9,1817.3 C1203.0,1821.2 1204.1,1825.1 1205.2,1828.9 C1206.3,1832.8 1207.4,1836.7 1208.6,1840.5 C1209.7,1844.4 1210.9,1848.2 1212.1,1852.0 C1213.3,1855.9 1214.6,1859.7 1215.8,1863.5 C1217.0,1867.4 1218.3,1871.2 1219.5,1875.0 C1220.7,1878.9 1221.9,1882.7 1223.2,1886.5 C1224.4,1890.4 1225.6,1894.2 1226.9,1898.0 C1228.1,1901.9 1229.3,1905.7 1230.5,1909.5 C1231.8,1913.4 1233.0,1917.2 1234.2,1921.1 C1235.4,1924.9 1236.6,1928.7 1237.9,1932.6 C1239.1,1936.4 1240.3,1940.2 1241.6,1944.1 C1242.8,1947.9 1244.0,1951.7 1245.2,1955.6 C1246.5,1959.4 1247.7,1963.2 1248.9,1967.0 C1250.2,1970.9 1251.4,1974.7 1252.6,1978.5 C1253.9,1982.4 1255.1,1986.2 1256.4,1990.0 C1257.7,1993.8 1259.0,1997.6 1260.3,2001.4 C1261.6,2005.3 1262.9,2009.0 1264.3,2012.8 C1265.6,2016.6 1267.0,2020.4 1268.4,2024.2 C1269.7,2028.0 1271.1,2031.8 1272.4,2035.6 C1273.8,2039.4 1275.2,2043.1 1276.6,2046.9 C1278.0,2050.7 1279.3,2054.5 1280.8,2058.2 C1282.2,2062.0 1283.6,2065.8 1285.1,2069.5 C1286.6,2073.3 1288.1,2077.0 1289.6,2080.7 C1291.2,2084.4 1292.8,2088.1 1294.5,2091.7 C1296.2,2095.4 1297.9,2099.0 1299.7,2102.6 C1301.5,2106.2 1303.4,2109.7 1305.4,2113.2 C1307.5,2116.7 1309.6,2120.1 1311.8,2123.3 C1314.1,2126.6 1316.6,2129.8 1319.1,2132.9 C1321.7,2136.0 1324.3,2139.0 1327.0,2142.0 C1329.7,2144.9 1332.5,2147.9 1335.2,2150.8 C1338.0,2153.7 1340.8,2156.6 1343.6,2159.5 C1346.5,2162.3 1349.4,2165.1 1352.4,2167.8 C1355.3,2170.5 1358.3,2173.2 1361.3,2175.9 C1364.3,2178.6 1367.3,2181.2 1370.4,2183.8 C1373.5,2186.3 1376.7,2188.8 1379.9,2191.2 C1383.1,2193.7 1386.3,2196.0 1389.6,2198.4 C1392.9,2200.7 1396.2,2203.0 1399.6,2205.2 C1402.9,2207.4 1406.3,2209.6 1409.7,2211.8 C1413.1,2214.0 1416.5,2216.1 1419.9,2218.2 C1423.4,2220.3 1426.8,2222.3 1430.3,2224.4 C1433.7,2226.5 1437.2,2228.5 1440.6,2230.6 C1444.1,2232.7 1447.5,2234.8 1451.0,2236.8 C1454.4,2238.9 1457.9,2241.0 1461.3,2243.1 C1464.8,2245.1 1468.2,2247.2 1471.7,2249.2 C1475.2,2251.1 1478.7,2253.1 1482.3,2254.9 C1485.9,2256.7 1489.5,2258.4 1493.2,2260.1 C1496.8,2261.7 1500.6,2263.2 1504.3,2264.8 C1508.0,2266.3 1511.8,2267.8 1515.5,2269.3 C1519.2,2270.8 1523.0,2272.3 1526.7,2273.8 C1530.4,2275.3 1534.2,2276.8 1537.9,2278.3 C1541.6,2279.8 1545.4,2281.3 1549.1,2282.7 C1552.9,2284.2 1556.6,2285.7 1560.4,2287.2 C1564.1,2288.6 1567.9,2290.1 1571.6,2291.4 C1575.4,2292.8 1579.2,2294.1 1583.1,2295.3 C1586.9,2296.5 1590.8,2297.6 1594.6,2298.7 C1598.5,2299.8 1602.4,2300.8 1606.3,2301.8 C1610.2,2302.9 1614.1,2303.9 1618.0,2304.9 C1621.9,2305.8 1625.8,2306.7 1629.7,2307.6 C1633.6,2308.5 1637.6,2309.3 1641.5,2310.2 C1645.5,2311.0 1649.4,2311.8 1653.4,2312.5 C1657.3,2313.3 1661.3,2314.1 1665.2,2314.9 C1669.2,2315.7 1673.1,2316.4 1677.1,2317.2 C1681.0,2317.9 1685.0,2318.5 1689.0,2319.1 C1692.9,2319.7 1696.9,2320.2 1700.9,2320.7 C1704.9,2321.1 1708.9,2321.5 1712.9,2322.0 C1716.9,2322.4 1720.9,2322.8 1724.9,2323.2 C1728.9,2323.7 1733.0,2324.1 1736.9,2324.6 C1740.9,2325.1 1744.9,2325.7 1748.6,2326.2 C1752.4,2326.7 1756.4,2327.3 1759.4,2327.8 C1762.4,2328.2 1765.6,2328.7 1766.8,2328.9" fill="none" stroke="#0000f4" stroke-width="10.5" stroke-linejoin="round" stroke-linecap="round"/>
<path d="M990.0,1362.5 C992.0,1362.7 998.1,1363.0 1001.9,1363.8 C1005.6,1364.7 1009.1,1365.9 1012.6,1367.5 C1016.1,1369.1 1019.4,1371.3 1022.8,1373.4 C1026.1,1375.6 1029.3,1378.1 1032.6,1380.5 C1035.8,1382.8 1039.0,1385.3 1042.2,1387.7 C1045.4,1390.2 1048.5,1392.7 1051.6,1395.3 C1054.6,1398.0 1057.6,1400.7 1060.4,1403.5 C1063.3,1406.3 1066.1,1409.2 1068.8,1412.2 C1071.4,1415.2 1074.0,1418.3 1076.5,1421.5 C1079.0,1424.6 1081.4,1427.8 1083.8,1431.1 C1086.1,1434.4 1088.4,1437.7 1090.6,1441.1 C1092.7,1444.5 1094.8,1447.9 1096.8,1451.4 C1098.8,1454.9 1100.7,1458.5 1102.5,1462.0 C1104.4,1465.6 1106.2,1469.2 1108.0,1472.8 C1109.8,1476.4 1111.6,1480.1 1113.3,1483.7 C1115.1,1487.3 1116.8,1491.0 1118.5,1494.6 C1120.3,1498.2 1122.0,1501.9 1123.6,1505.6 C1125.3,1509.2 1127.0,1512.9 1128.7,1516.6 C1130.3,1520.2 1132.0,1523.9 1133.6,1527.6 C1135.2,1531.3 1136.8,1535.0 1138.3,1538.8 C1139.8,1542.5 1141.3,1546.3 1142.7,1550.0 C1144.1,1553.8 1145.4,1557.6 1146.8,1561.4 C1148.1,1565.2 1149.4,1569.0 1150.8,1572.8 C1152.2,1576.6 1153.6,1580.4 1155.0,1584.2 C1156.4,1587.9 1157.8,1591.7 1159.3,1595.5 C1160.7,1599.2 1162.2,1603.0 1163.7,1606.7 C1165.1,1610.5 1166.5,1614.3 1167.8,1618.1 C1169.2,1621.9 1170.5,1625.7 1171.7,1629.5 C1173.0,1633.4 1174.3,1637.2 1175.5,1641.0 C1176.8,1644.9 1178.1,1648.7 1179.4,1652.5 C1180.7,1656.3 1182.0,1660.1 1183.3,1663.9 C1184.7,1667.7 1186.0,1671.5 1187.4,1675.3 C1188.7,1679.1 1190.1,1682.9 1191.5,1686.7 C1192.8,1690.5 1194.3,1694.3 1195.7,1698.0 C1197.1,1701.8 1198.6,1705.6 1200.1,1709.3 C1201.6,1713.1 1203.1,1716.8 1204.5,1720.6 C1206.0,1724.3 1207.5,1728.1 1208.9,1731.9 C1210.3,1735.6 1211.7,1739.4 1213.1,1743.2 C1214.5,1747.0 1215.8,1750.8 1217.1,1754.6 C1218.5,1758.4 1219.8,1762.2 1221.0,1766.1 C1222.3,1769.9 1223.5,1773.7 1224.6,1777.6 C1225.7,1781.5 1226.8,1785.4 1227.8,1789.3 C1228.8,1793.2 1229.7,1797.1 1230.7,1801.0 C1231.7,1804.9 1232.6,1808.8 1233.6,1812.7 C1234.6,1816.7 1235.6,1820.6 1236.7,1824.4 C1237.8,1828.3 1238.9,1832.2 1240.2,1836.0 C1241.4,1839.8 1242.7,1843.7 1244.0,1847.5 C1245.3,1851.3 1246.6,1855.1 1247.9,1858.9 C1249.3,1862.7 1250.6,1866.5 1251.9,1870.3 C1253.3,1874.1 1254.6,1877.9 1255.9,1881.8 C1257.3,1885.6 1258.6,1889.4 1259.9,1893.2 C1261.3,1897.0 1262.6,1900.8 1263.9,1904.6 C1265.3,1908.4 1266.6,1912.2 1267.9,1916.0 C1269.3,1919.8 1270.6,1923.6 1271.9,1927.4 C1273.2,1931.2 1274.6,1935.0 1275.9,1938.9 C1277.2,1942.7 1278.5,1946.5 1279.8,1950.3 C1281.1,1954.1 1282.4,1958.0 1283.6,1961.8 C1284.9,1965.6 1286.1,1969.5 1287.4,1973.3 C1288.6,1977.1 1289.8,1981.0 1291.1,1984.8 C1292.3,1988.6 1293.6,1992.5 1294.9,1996.3 C1296.1,2000.1 1297.5,2003.9 1298.8,2007.7 C1300.2,2011.5 1301.6,2015.3 1303.1,2019.0 C1304.5,2022.8 1306.0,2026.5 1307.5,2030.3 C1309.0,2034.0 1310.5,2037.8 1312.1,2041.5 C1313.6,2045.2 1315.2,2048.9 1316.9,2052.6 C1318.6,2056.2 1320.4,2059.8 1322.3,2063.4 C1324.1,2066.9 1326.1,2070.4 1328.0,2074.0 C1329.9,2077.5 1331.8,2081.1 1333.7,2084.6 C1335.5,2088.2 1337.4,2091.8 1339.3,2095.4 C1341.2,2098.9 1343.1,2102.4 1345.1,2105.9 C1347.1,2109.5 1349.1,2112.9 1351.2,2116.4 C1353.3,2119.8 1355.4,2123.3 1357.5,2126.7 C1359.6,2130.1 1361.8,2133.5 1363.9,2136.9 C1366.1,2140.3 1368.3,2143.7 1370.6,2147.1 C1372.8,2150.4 1375.1,2153.8 1377.4,2157.1 C1379.7,2160.3 1382.0,2163.6 1384.5,2166.8 C1386.9,2170.0 1389.4,2173.1 1392.1,2176.2 C1394.7,2179.2 1397.4,2182.2 1400.2,2185.1 C1402.9,2188.0 1405.8,2190.9 1408.6,2193.7 C1411.5,2196.6 1414.4,2199.5 1417.2,2202.3 C1420.1,2205.2 1422.9,2208.0 1425.8,2210.9 C1428.6,2213.7 1431.4,2216.6 1434.3,2219.4 C1437.2,2222.3 1440.0,2225.1 1443.0,2227.9 C1445.9,2230.6 1448.8,2233.3 1451.9,2235.9 C1455.0,2238.5 1458.2,2240.9 1461.4,2243.3 C1464.7,2245.6 1468.0,2247.9 1471.4,2250.0 C1474.8,2252.2 1478.3,2254.2 1481.8,2256.2 C1485.3,2258.1 1488.9,2259.9 1492.6,2261.6 C1496.2,2263.3 1499.9,2264.8 1503.6,2266.4 C1507.4,2267.9 1511.1,2269.4 1514.9,2270.9 C1518.6,2272.4 1522.3,2273.9 1526.1,2275.4 C1529.8,2276.9 1533.6,2278.4 1537.3,2279.9 C1541.1,2281.4 1544.8,2282.8 1548.6,2284.3 C1552.3,2285.8 1556.1,2287.3 1559.9,2288.7 C1563.6,2290.2 1567.4,2291.6 1571.2,2292.9 C1575.0,2294.3 1578.8,2295.6 1582.6,2296.8 C1586.5,2298.1 1590.3,2299.2 1594.2,2300.3 C1598.1,2301.4 1602.0,2302.5 1605.9,2303.6 C1609.7,2304.6 1613.6,2305.7 1617.5,2306.6 C1621.5,2307.6 1625.4,2308.6 1629.3,2309.5 C1633.2,2310.3 1637.2,2311.1 1641.1,2311.9 C1645.1,2312.7 1649.1,2313.5 1653.0,2314.3 C1657.0,2315.0 1660.9,2315.8 1664.9,2316.5 C1668.9,2317.3 1672.8,2318.0 1676.8,2318.7 C1680.8,2319.4 1684.7,2320.1 1688.7,2320.7 C1692.7,2321.2 1696.7,2321.8 1700.7,2322.2 C1704.7,2322.7 1708.7,2323.2 1712.7,2323.6 C1716.7,2324.0 1720.8,2324.5 1724.8,2324.9 C1728.8,2325.3 1732.8,2325.8 1736.8,2326.3 C1740.7,2326.7 1744.8,2327.2 1748.6,2327.7 C1752.3,2328.2 1756.3,2328.7 1759.4,2329.1 C1762.4,2329.4 1765.6,2329.8 1766.8,2330.0" fill="none" stroke="#0000f4" stroke-width="10.5" stroke-linejoin="round" stroke-linecap="round"/>
<rect x="213.8" y="1270.5" width="1575.2" height="1091.8000000000002" fill="none" stroke="#000" stroke-width="4.5"/>
<g font-family="'Liberation Serif','Times New Roman',serif">
<text x="235.3" y="98.8" font-size="76">(a)</text>
<text transform="translate(103.1,282.6) scale(1,1.07)" font-size="62">100</text>
<text transform="translate(164.2,585.9) scale(1,1.07)" font-size="62">0</text>
<text transform="translate(82.1,886.6) scale(1,1.07)" font-size="62">-100</text>
<text transform="translate(300.7,1178.2) scale(1,1.07)" font-size="62">-0.30</text>
<text transform="translate(618.2,1179.2) scale(1,1.07)" font-size="62">-0.15</text>
<text transform="translate(946.8,1178.6) scale(1,1.07)" font-size="62">0.00</text>
<text transform="translate(1263.8,1180.2) scale(1,1.07)" font-size="62">0.15</text>
<text transform="translate(1583.9,1180.2) scale(1,1.07)" font-size="62">0.30</text>
<text x="1513.8" y="97.2" font-size="62" fill="#0000cc">30 K</text>
<text x="1536.8" y="274.5" font-size="62" fill="#006400">70 K</text>
<text x="1556.8" y="407.6" font-size="62" fill="#5e005e">130 K</text>
<text x="1587.7" y="483.1" font-size="62" fill="#520000">200 K</text>
<text x="338.2" y="546.3" font-size="62" fill="#e00000">300 K</text>
<text x="935" y="1237" font-size="60.5"><tspan font-style="italic">B</tspan> (T)</text>
<text transform="translate(99,701) rotate(-90)" font-size="61"><tspan font-style="italic">R</tspan><tspan font-size="36" dx="3" dy="23">H</tspan><tspan dy="-23"> (Ohm)</tspan></text>
<text x="1065.3" y="671.9" font-size="43.5">20</text>
<text x="1067.4" y="847.3" font-size="43.5">10</text>
<text x="1087.2" y="1023.8" font-size="43.5">0</text>
<text x="1090.9" y="1054.0" font-size="43.5">0.00</text>
<text x="1331.9" y="1054.0" font-size="43.5">0.15</text>
<text x="1573.9" y="1054.0" font-size="43.5">0.30</text>
<text x="1507.7" y="699.1" font-size="43.5" fill="#4a0000">200 K</text>
<text x="1521.9" y="874.4" font-size="43.5" fill="#d00000">300 K</text>
<text x="1436" y="1081.3" font-size="41"><tspan font-style="italic">B</tspan> (T)</text>
<text transform="translate(1053,901) rotate(-90)" font-size="42.5"><tspan font-style="italic">R</tspan><tspan font-size="25" dy="16">H</tspan><tspan dy="-16"> (Ohm)</tspan></text>
<text x="232.6" y="1336.1" font-size="76">(b)</text>
<text transform="translate(114.7,1375.4) scale(1,1.07)" font-size="62">0.0</text>
<text transform="translate(94.7,1552.9) scale(1,1.07)" font-size="62">-0.3</text>
<text transform="translate(94.7,1730.3) scale(1,1.07)" font-size="62">-0.6</text>
<text transform="translate(95.7,1907.8) scale(1,1.07)" font-size="62">-0.9</text>
<text transform="translate(95.7,2084.7) scale(1,1.07)" font-size="62">-1.2</text>
<text transform="translate(94.7,2262.2) scale(1,1.07)" font-size="62">-1.5</text>
<text transform="translate(298.0,2432.0) scale(1,1.07)" font-size="62">-0.30</text>
<text transform="translate(617.5,2432.0) scale(1,1.07)" font-size="62">-0.15</text>
<text transform="translate(947.0,2432.0) scale(1,1.07)" font-size="62">0.00</text>
<text transform="translate(1266.5,2432.0) scale(1,1.07)" font-size="62">0.15</text>
<text transform="translate(1586.0,2432.0) scale(1,1.07)" font-size="62">0.30</text>
<text x="937.5" y="2490" font-size="61.5"><tspan font-style="italic">B</tspan> (T)</text>
<text transform="translate(75.5,1931) rotate(-90)" font-size="61"><tspan font-style="italic">MR</tspan> (%)</text>
<text x="1164.4" y="1337.3" font-size="62" fill="#e00000">300 K</text>
<text x="1568.4" y="1483.8" font-size="62" fill="#520000">200 K</text>
<text x="1548.9" y="1616.8" font-size="62" fill="#5e005e">130 K</text>
<text x="1528.0" y="1927.2" font-size="62" fill="#006400">70 K</text>
<text x="1449.9" y="2214.4" font-size="62" fill="#0000cc">30 K</text>
</g></svg>
</body></html>
